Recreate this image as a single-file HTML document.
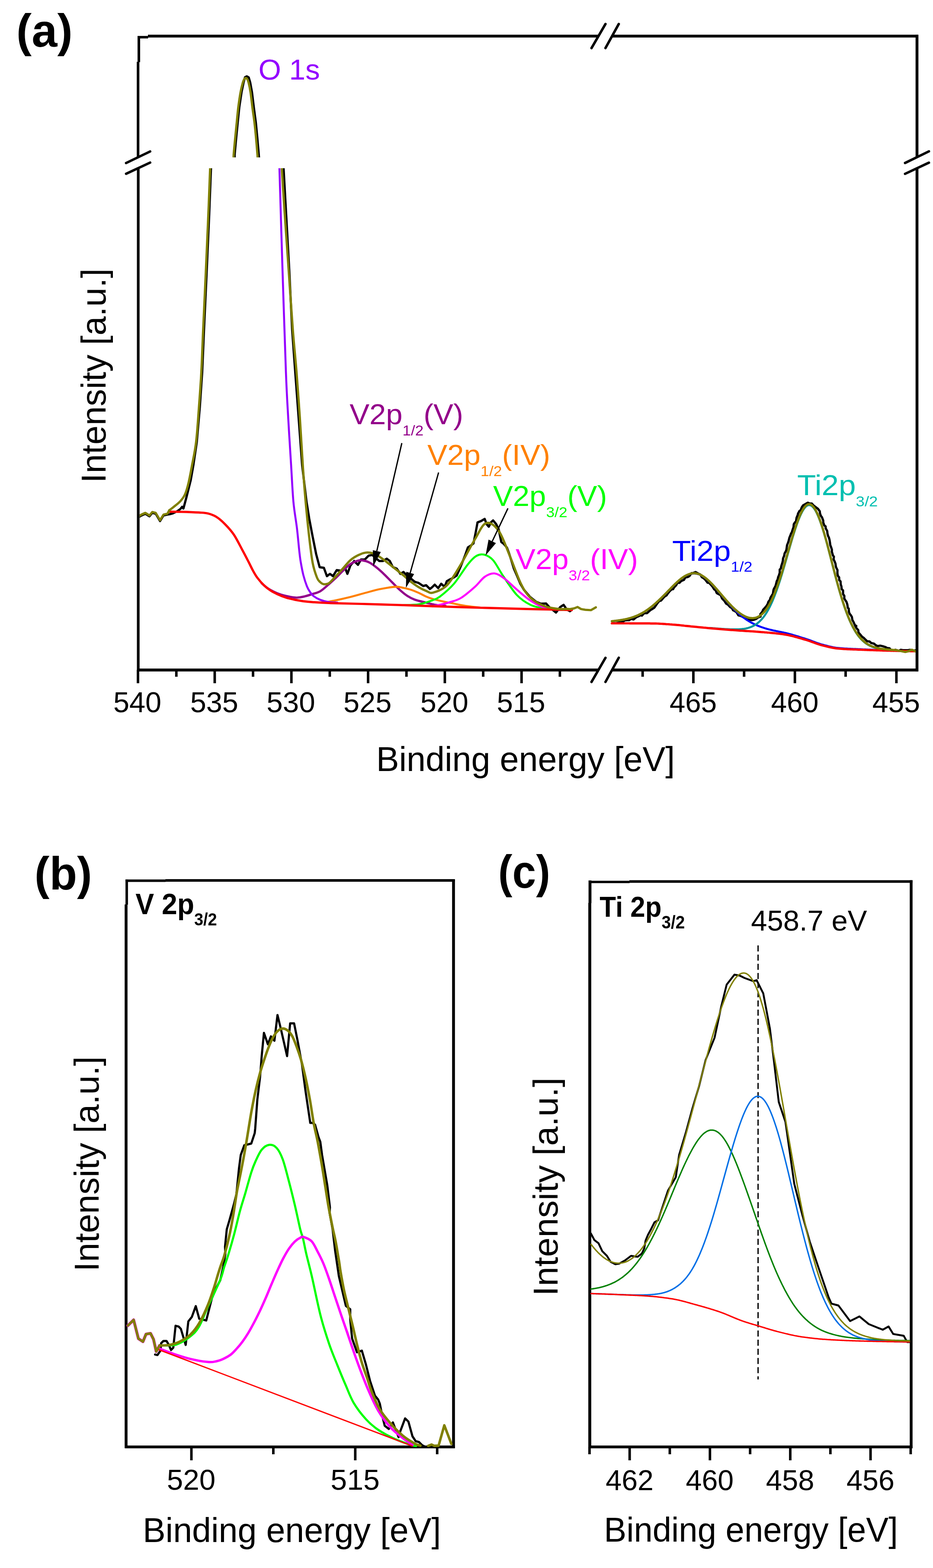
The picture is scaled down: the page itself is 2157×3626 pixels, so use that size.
<!DOCTYPE html>
<html><head><meta charset="utf-8"><title>XPS spectra</title>
<style>html,body{margin:0;padding:0;background:#fff;width:2157px;height:3626px;overflow:hidden}svg{display:block}</style>
</head><body>
<svg xmlns="http://www.w3.org/2000/svg" width="2157" height="3626" viewBox="0 0 2157 3626">
<rect width="100%" height="100%" fill="#fff"/>
<line x1="321" y1="85" x2="321" y2="143.6" stroke="#000" stroke-width="6" stroke-linecap="butt"/>
<line x1="319.2" y1="143" x2="319.2" y2="363.3" stroke="#000" stroke-width="6" stroke-linecap="butt"/>
<line x1="319.6" y1="388.6" x2="319.6" y2="1552.7" stroke="#000" stroke-width="6.2" stroke-linecap="butt"/>
<line x1="2120" y1="80.5" x2="2120" y2="363.4" stroke="#000" stroke-width="6.6" stroke-linecap="butt"/>
<line x1="2120" y1="389.1" x2="2120" y2="1552.5" stroke="#000" stroke-width="6.6" stroke-linecap="butt"/>
<line x1="318" y1="86" x2="342.5" y2="86" stroke="#000" stroke-width="5.8" stroke-linecap="butt"/>
<line x1="342" y1="83.5" x2="1383.4" y2="83.5" stroke="#000" stroke-width="6.6" stroke-linecap="butt"/>
<line x1="1414.9" y1="83.5" x2="2123" y2="83.5" stroke="#000" stroke-width="6.6" stroke-linecap="butt"/>
<line x1="317.5" y1="1549.4" x2="1383.4" y2="1549.4" stroke="#000" stroke-width="6.6" stroke-linecap="butt"/>
<line x1="1414.9" y1="1549.4" x2="2123" y2="1549.4" stroke="#000" stroke-width="6.6" stroke-linecap="butt"/>
<line x1="1367.5" y1="1577" x2="1399.8" y2="1521.2" stroke="#000" stroke-width="5.7" stroke-linecap="round"/>
<line x1="1399.8" y1="1577" x2="1430.5" y2="1521" stroke="#000" stroke-width="5.7" stroke-linecap="round"/>
<line x1="1367.5" y1="111.2" x2="1399.8" y2="55.5" stroke="#000" stroke-width="5.7" stroke-linecap="round"/>
<line x1="1399.8" y1="111.2" x2="1430.5" y2="55.5" stroke="#000" stroke-width="5.7" stroke-linecap="round"/>
<line x1="291.5" y1="377" x2="347.1" y2="350.2" stroke="#000" stroke-width="5.7" stroke-linecap="round"/>
<line x1="291.5" y1="401.9" x2="347.1" y2="376" stroke="#000" stroke-width="5.7" stroke-linecap="round"/>
<line x1="2092.4" y1="376.9" x2="2147.6" y2="350" stroke="#000" stroke-width="5.7" stroke-linecap="round"/>
<line x1="2092.4" y1="402" x2="2147.6" y2="376.2" stroke="#000" stroke-width="5.7" stroke-linecap="round"/>
<line x1="319" y1="1549" x2="319" y2="1580" stroke="#000" stroke-width="5.8" stroke-linecap="butt"/>
<line x1="496.4" y1="1549" x2="496.4" y2="1580" stroke="#000" stroke-width="5.8" stroke-linecap="butt"/>
<line x1="673.7" y1="1549" x2="673.7" y2="1580" stroke="#000" stroke-width="5.8" stroke-linecap="butt"/>
<line x1="851" y1="1549" x2="851" y2="1580" stroke="#000" stroke-width="5.8" stroke-linecap="butt"/>
<line x1="1028.4" y1="1549" x2="1028.4" y2="1580" stroke="#000" stroke-width="5.8" stroke-linecap="butt"/>
<line x1="1205.8" y1="1549" x2="1205.8" y2="1580" stroke="#000" stroke-width="5.8" stroke-linecap="butt"/>
<line x1="407.7" y1="1549" x2="407.7" y2="1565" stroke="#000" stroke-width="5.8" stroke-linecap="butt"/>
<line x1="585" y1="1549" x2="585" y2="1565" stroke="#000" stroke-width="5.8" stroke-linecap="butt"/>
<line x1="762.4" y1="1549" x2="762.4" y2="1565" stroke="#000" stroke-width="5.8" stroke-linecap="butt"/>
<line x1="939.7" y1="1549" x2="939.7" y2="1565" stroke="#000" stroke-width="5.8" stroke-linecap="butt"/>
<line x1="1117.1" y1="1549" x2="1117.1" y2="1565" stroke="#000" stroke-width="5.8" stroke-linecap="butt"/>
<line x1="1294.4" y1="1549" x2="1294.4" y2="1565" stroke="#000" stroke-width="5.8" stroke-linecap="butt"/>
<line x1="1603" y1="1549" x2="1603" y2="1580" stroke="#000" stroke-width="5.8" stroke-linecap="butt"/>
<line x1="1837.7" y1="1549" x2="1837.7" y2="1580" stroke="#000" stroke-width="5.8" stroke-linecap="butt"/>
<line x1="2072.4" y1="1549" x2="2072.4" y2="1580" stroke="#000" stroke-width="5.8" stroke-linecap="butt"/>
<line x1="1485.7" y1="1549" x2="1485.7" y2="1565" stroke="#000" stroke-width="5.8" stroke-linecap="butt"/>
<line x1="1720.3" y1="1549" x2="1720.3" y2="1565" stroke="#000" stroke-width="5.8" stroke-linecap="butt"/>
<line x1="1955" y1="1549" x2="1955" y2="1565" stroke="#000" stroke-width="5.8" stroke-linecap="butt"/>
<defs><clipPath id="cu"><rect x="323" y="86" width="1794" height="278"/></clipPath><clipPath id="cl"><rect x="323" y="389" width="1794" height="1157"/></clipPath></defs>
<g clip-path="url(#cu)">
<path d="M542.2 372 L542.4 364 L542.6 356.5 L546.1 318.7 L549.6 283.5 L553.2 248.2 L558.5 212.9 L563.3 190 L566.5 178.5 L570.5 176.5 L575 179 L578.5 191 L582.5 212.9 L586.8 248 L591.5 283.5 L595 320 L598.2 356.5 L598.8 364 L599.3 372" stroke="#000" stroke-width="5.2" fill="none" stroke-linejoin="round" stroke-linecap="round"/>
<path d="M539.2 372 C539.4 370.7 539.9 366.6 540.1 364 C540.3 361.4 539.7 364.1 540.3 356.5 C540.9 348.9 542.6 330.9 543.8 318.7 C545 306.5 546.1 295.2 547.3 283.5 C548.5 271.8 549.4 260 550.9 248.2 C552.4 236.4 554.5 222.4 556.2 212.9 C558 203.4 559.9 196 561.4 190.9 C562.9 185.8 563.9 184.3 565 182.5 C566.1 180.7 567 180.3 568.1 180.3 C569.2 180.3 570.4 180.7 571.5 182.5 C572.6 184.3 573.4 185.8 574.7 190.9 C576 196 577.6 203.4 579.1 212.9 C580.6 222.4 582 236.4 583.5 248.2 C585 260 586.9 271.8 588.3 283.5 C589.7 295.2 590.8 306.5 591.9 318.7 C593 330.9 594.5 348.9 595.1 356.5 C595.7 364.1 595.4 361.4 595.6 364 C595.8 366.6 596.1 370.7 596.2 372" stroke="#808000" stroke-width="5.2" fill="none" stroke-linejoin="round" stroke-linecap="round"/>
</g><g clip-path="url(#cl)">
<path d="M322 1195 L327 1192 L336 1188 L345.6 1194 L352 1186 L360 1188 L370 1205 L378 1192 L387 1190 L393 1189 L400 1187 L410 1182 L417 1177 L421 1172 L424 1176 L427 1165 L431 1150 L436 1130 L441 1110 L447 1076 L455 1022 L462 941 L467.5 860 L471.6 764.3 L477.8 629.5 L483.7 494.8 L487.8 389 L488.2 378" stroke="#000" stroke-width="5.2" fill="none" stroke-linejoin="round" stroke-linecap="round"/>
<path d="M655.2 378 L655.6 389 L661.5 494.8 L669 629.5 L675.5 764.3 L682.5 860 L690.5 967.8 L698.5 1075.6 L708.6 1160 L715 1200 L722.8 1240.9 L730.9 1281.3 L739 1311.6 L748.8 1313.1 L755.8 1332.3 L762.8 1327.1 L769.8 1332.3 L778.5 1318.3 L790.8 1320.1 L797.8 1313.1 L803.1 1327.1 L810.1 1307.8 L818.8 1297.3 L827.6 1306.1 L834.6 1293.8 L843.4 1293.8 L852.1 1285 L860.9 1283.3 L868 1290 L876.7 1297.3 L885.4 1297.3 L894.2 1292 L901.2 1297.3 L908.2 1311.3 L917 1314.8 L925.7 1327.1 L932.7 1322.7 L939.7 1329.7 L950 1338 L959 1345.5 L967.8 1348.1 L978.3 1355.1 L985.3 1353.4 L994 1362.1 L999 1358 L1005 1352 L1013 1360 L1020 1350 L1028 1357 L1033 1344 L1040 1340 L1048 1336 L1055.8 1331 L1065 1310 L1075 1285 L1081.7 1266 L1088 1262 L1094.6 1256.7 L1100 1230 L1104 1208 L1112 1205 L1120.5 1200 L1125 1212 L1130 1218 L1135 1208 L1140 1203.4 L1147 1212 L1152.9 1224 L1159 1253.5 L1165 1258 L1172 1266.4 L1177 1280 L1182 1295.5 L1188 1315 L1195 1331 L1203 1350 L1211 1363.5 L1225 1380 L1240 1392 L1250 1396 L1262.6 1395.6 L1270 1404 L1285.3 1416.6 L1295 1404 L1303 1398.8 L1310 1409 L1317.6 1413.4 L1322 1410" stroke="#000" stroke-width="5.2" fill="none" stroke-linejoin="round" stroke-linecap="round"/>
<path d="M1416.8 1441 L1422.7 1441.4 L1428.1 1440.7 L1431.9 1438 L1439.6 1437.9 L1444.7 1434.6 L1449.2 1434.1 L1454.6 1434.2 L1458.8 1431.1 L1464.7 1432.5 L1470.9 1427.4 L1476.2 1425.1 L1480.8 1422.7 L1484.1 1423.6 L1489.3 1418 L1495.9 1418 L1498.7 1415.3 L1503.8 1410.8 L1507.3 1408.7 L1512.7 1405.3 L1517.4 1398.6 L1520.2 1394.5 L1523.9 1390.1 L1528.3 1388.7 L1531.3 1385.3 L1536.1 1379.7 L1541 1376.7 L1543.8 1372.6 L1548.5 1366.9 L1552.9 1362.9 L1556.3 1362.4 L1558.3 1358.4 L1563.2 1353.5 L1566.3 1347.4 L1570.7 1347.9 L1575 1343.5 L1581.3 1340.9 L1584.4 1335.4 L1589.8 1334.5 L1593.8 1332.3 L1598.7 1325.4 L1602.4 1325.1 L1608 1322.8 L1614.5 1326.5 L1619.1 1328.6 L1622.4 1334.5 L1626.6 1337.1 L1630.2 1340.2 L1636 1347.7 L1638.7 1347.3 L1644.4 1353.2 L1646.8 1355.9 L1651 1362.6 L1654.4 1365.1 L1656.9 1371.3 L1660.4 1373.5 L1666.1 1376.3 L1669.3 1384 L1672.6 1387.3 L1675.1 1390.1 L1678.7 1395.8 L1682.8 1398.2 L1688.2 1404 L1692.1 1406.3 L1694.7 1411.1 L1698.9 1413.1 L1702.8 1415.9 L1707.2 1423.1 L1713.1 1424.6 L1716.5 1426.1 L1720.5 1428.3 L1727.4 1432.9 L1731.7 1433.8 L1738.2 1433.8 L1743.4 1433.1 L1747.9 1431.3 L1752.7 1427.9 L1758.4 1425.7 L1757.8 1420.2 L1762.4 1414.6 L1764.3 1410 L1768.2 1405.8 L1771.4 1402.1 L1774.6 1397.1 L1776.4 1391.7 L1779.8 1387.4 L1781.1 1382.6 L1784.6 1376.7 L1786.9 1373.1 L1788 1365.5 L1788.9 1362.2 L1792.8 1355.2 L1794 1351.3 L1795.8 1343.8 L1797.7 1340.4 L1799.1 1334.4 L1800.8 1330.5 L1802.6 1324.6 L1802.6 1317.3 L1805.1 1314.5 L1806.3 1308.8 L1808.8 1301 L1809.9 1296.7 L1810.4 1291.2 L1812.8 1285.4 L1814 1279.6 L1816.2 1275.9 L1818 1271.7 L1818.6 1267.9 L1819.6 1260.6 L1822 1254.6 L1823.1 1251.4 L1825.2 1242.9 L1827.5 1237.4 L1828.9 1233.6 L1830.7 1230.8 L1832.8 1223.8 L1834.5 1219.5 L1835.2 1212.1 L1837.7 1208.3 L1840.3 1205.4 L1841.5 1197.5 L1844.4 1190.6 L1844.8 1188 L1848.3 1181.6 L1851.1 1180 L1853.5 1173.4 L1856.6 1168.7 L1867.4 1162.5 L1872.6 1164.4 L1876.7 1164.3 L1881.4 1169.4 L1891 1176.6 L1895.2 1182.3 L1895.7 1186.9 L1897.6 1192.6 L1900.6 1196.8 L1903.2 1203.8 L1903.3 1208.1 L1905.7 1215 L1908.7 1217.4 L1908.9 1221.8 L1912.4 1228.1 L1913 1234 L1914.6 1239.8 L1916.3 1243 L1917.9 1249.2 L1918.8 1254.9 L1919.5 1260.5 L1921.4 1265.4 L1923.3 1271.2 L1923.1 1275.5 L1925.6 1284.2 L1927.9 1287.4 L1927.1 1293.3 L1929.6 1298.3 L1931.5 1303.4 L1932.5 1310.5 L1933.5 1313.1 L1936.1 1318.1 L1936 1325.6 L1937 1331.4 L1940 1335.3 L1940.2 1341.5 L1943.2 1344.3 L1943.7 1351.5 L1945.2 1355.9 L1945.9 1362.3 L1949 1365.3 L1949.1 1373.7 L1952 1378 L1951.9 1384 L1955.6 1390 L1956.7 1391.3 L1958.8 1397.3 L1960.1 1405.7 L1962 1407.1 L1962.8 1415.4 L1964.4 1419.4 L1967 1422.6 L1969.5 1426.9 L1970.6 1433.7 L1972.7 1437.3 L1976.4 1445.5 L1979.7 1447.7 L1977.1 1447.2 L1980.2 1452.7 L1984.1 1457 L1984.9 1462.8 L1988.7 1467.1 L1993 1472.4 L1996.9 1475.1 L2000.4 1478.7 L2004.7 1482.9 L2010 1483.3 L2014.1 1487 L2020.3 1488.4 L2025.5 1492.5 L2029.3 1494.1 L2034.8 1493 L2041.2 1494.6 L2047.4 1496.5 L2051.6 1498.7 L2056.4 1499 L2058.9 1502.2 L2066.6 1504.8 L2070.3 1502.6 L2077.6 1505 L2082.8 1502.7 L2087.8 1503.6 L2092.4 1503.5 L2098.8 1503.6 L2103.7 1502.7 L2110.3 1504.9 L2115.7 1504" stroke="#000" stroke-width="5.2" fill="none" stroke-linejoin="round" stroke-linecap="round"/>
<path d="M605 1348.7 C606.7 1350.2 611.6 1354.9 615 1357.5 C618.4 1360.1 621.3 1362.1 625.6 1364.5 C629.9 1366.9 636.6 1370.2 640.8 1372 C645 1373.8 645.8 1374.1 650.9 1375.5 C656 1376.9 665.2 1379.2 671.1 1380.3 C677 1381.4 681.2 1382.1 686.2 1382 C691.2 1381.9 695.8 1381.2 701.4 1379.9 C707 1378.7 713.6 1376.6 720 1374.5 C726.4 1372.4 733.8 1370.9 740 1367.4 C746.2 1363.9 751.7 1358.4 757.5 1353.4 C763.3 1348.4 769.1 1343.1 775 1337.6 C780.9 1332 786.8 1325.6 792.6 1320.1 C798.5 1314.5 804.3 1308.2 810.1 1304.3 C815.9 1300.3 822.9 1297.8 827.6 1296.4 C832.3 1295 833.7 1295.2 838.1 1295.9 C842.5 1296.6 848.4 1297.9 853.9 1300.8 C859.4 1303.7 865.6 1308.4 871.4 1313.1 C877.2 1317.8 883.1 1323.2 888.9 1328.8 C894.7 1334.3 900.5 1340.6 906.4 1346.4 C912.2 1352.2 918.1 1358.7 924 1363.9 C929.9 1369.2 935.7 1374.1 941.5 1377.9 C947.3 1381.7 951.7 1384.1 959 1386.7 C966.3 1389.3 977.6 1391.7 985.3 1393.7 C993 1395.7 997.5 1397.3 1005 1398.5 C1012.5 1399.7 1025.8 1400.6 1030 1401" stroke="#93008A" stroke-width="5.2" fill="none" stroke-linejoin="round" stroke-linecap="round"/>
<path d="M745 1393.8 C750 1392.9 764.1 1390.6 775 1388.4 C785.9 1386.2 798.4 1383.4 810.1 1380.5 C821.8 1377.6 833.4 1374 845.1 1370.9 C856.8 1367.8 868.5 1364.4 880.2 1362.1 C891.9 1359.8 906.5 1357.3 915.2 1356.9 C924 1356.5 926.9 1358.3 932.7 1359.5 C938.5 1360.7 944.4 1362 950.2 1363.9 C956.1 1365.8 961.9 1368.3 967.8 1370.9 C973.6 1373.5 979.9 1377.3 985.3 1379.6 C990.7 1381.9 994.7 1383.3 1000 1384.9 C1005.3 1386.5 1008.8 1387.5 1017 1389.3 C1025.2 1391.1 1038.5 1393.8 1049 1395.8 C1059.5 1397.8 1069.8 1400 1080 1401.5 C1090.2 1403 1105 1404.4 1110 1405" stroke="#FF8000" stroke-width="4.6" fill="none" stroke-linejoin="round" stroke-linecap="round"/>
<path d="M645.7 378 C645.8 379.8 644.8 348.7 646 389 C647.2 429.3 650.5 541.5 653 620 C655.5 698.5 658.8 802 661 860 C663.2 918 664.4 931.9 666.4 967.8 C668.4 1003.7 671 1043.6 673 1075.6 C675 1107.6 676.1 1135.8 678.3 1160 C680.5 1184.2 684.1 1201.4 686.4 1220.6 C688.7 1239.8 690.5 1261.8 692 1275 C693.5 1288.2 693.7 1290.8 695.3 1300 C696.9 1309.2 699 1321 701.4 1330.3 C703.8 1339.6 707 1349.2 709.5 1355.6 C712 1362 714 1364.9 716.6 1368.7 C719.2 1372.5 721.1 1375.5 725 1378.5 C728.9 1381.5 734.2 1384.7 740 1387 C745.8 1389.3 753.3 1391.2 760 1392.3 C766.7 1393.4 776.7 1393.3 780 1393.5" stroke="#9400FF" stroke-width="4.6" fill="none" stroke-linejoin="round" stroke-linecap="round"/>
<path d="M930 1399.3 C936.4 1399 956.8 1399.3 968.5 1397.4 C980.2 1395.5 991.9 1391 1000 1388 C1008.1 1385 1008.8 1385.8 1017 1379.6 C1025.2 1373.3 1038.2 1362.9 1049 1350.5 C1059.8 1338.1 1073 1315.8 1081.7 1305 C1090.4 1294.2 1094.8 1289.5 1101 1285.8 C1107.2 1282.1 1112.5 1281 1119 1282.6 C1125.5 1284.2 1132.7 1287.4 1140 1295.5 C1147.3 1303.6 1153.4 1317.6 1162.6 1331 C1171.8 1344.4 1184.3 1364.7 1195 1376 C1205.7 1387.3 1216.2 1393.8 1227 1399 C1237.8 1404.2 1247.4 1405.1 1259.6 1407 C1271.8 1408.9 1293.3 1409.9 1300 1410.5" stroke="#00FF00" stroke-width="4.6" fill="none" stroke-linejoin="round" stroke-linecap="round"/>
<path d="M1000 1402 C1002.8 1401.4 1010.3 1400.1 1017 1398.5 C1023.7 1396.9 1031.9 1395.1 1040 1392.5 C1048.1 1389.9 1055.8 1388.8 1065.5 1382.9 C1075.2 1377 1088.8 1365.2 1098 1357 C1107.2 1348.8 1113 1339.2 1120.5 1334 C1128 1328.8 1135.5 1325.4 1143 1326 C1150.5 1326.6 1157.1 1331.3 1165.8 1337.6 C1174.5 1343.8 1184.8 1354.9 1195 1363.5 C1205.2 1372.1 1216.2 1382.3 1227 1389.3 C1237.8 1396.3 1248.3 1402 1259.6 1405.5 C1270.9 1409 1289.1 1409.7 1295 1410.5" stroke="#FF00FF" stroke-width="4.6" fill="none" stroke-linejoin="round" stroke-linecap="round"/>
<path d="M1414.5 1436.6 L1416 1436.5 L1417.5 1436.4 L1419 1436.2 L1420.5 1436.1 L1422 1435.9 L1423.5 1435.7 L1425 1435.6 L1426.5 1435.4 L1428 1435.2 L1429.5 1435 L1431 1434.8 L1432.5 1434.6 L1434 1434.4 L1435.5 1434.1 L1437 1433.9 L1438.5 1433.6 L1440 1433.4 L1441.5 1433.1 L1443 1432.8 L1444.5 1432.5 L1446 1432.2 L1447.5 1431.8 L1449 1431.5 L1450.5 1431.1 L1452 1430.7 L1453.5 1430.4 L1455 1429.9 L1456.5 1429.5 L1458 1429.1 L1459.5 1428.6 L1461 1428.2 L1462.5 1427.7 L1464 1427.1 L1465.5 1426.6 L1467 1426.1 L1468.5 1425.5 L1470 1424.9 L1471.5 1424.3 L1473 1423.7 L1474.5 1423 L1476 1422.3 L1477.5 1421.6 L1479 1420.9 L1480.5 1420.1 L1482 1419.4 L1483.5 1418.6 L1485 1417.7 L1486.5 1416.9 L1488 1416 L1489.5 1415.1 L1491 1414.2 L1492.5 1413.2 L1494 1412.3 L1495.5 1411.3 L1497 1410.2 L1498.5 1409.2 L1500 1408.1 L1501.5 1407 L1503 1405.8 L1504.5 1404.7 L1506 1403.5 L1507.5 1402.3 L1509 1401 L1510.5 1399.8 L1512 1398.5 L1513.5 1397.2 L1515 1395.9 L1516.5 1394.5 L1518 1393.2 L1519.5 1391.8 L1521 1390.4 L1522.5 1389 L1524 1387.6 L1525.5 1386.2 L1527 1384.8 L1528.5 1383.3 L1530 1381.9 L1531.5 1380.4 L1533 1378.9 L1534.5 1377.4 L1536 1375.9 L1537.5 1374.4 L1539 1372.8 L1540.5 1371.3 L1542 1369.8 L1543.5 1368.3 L1545 1366.7 L1546.5 1365.2 L1548 1363.6 L1549.5 1362.1 L1551 1360.6 L1552.5 1359 L1554 1357.5 L1555.5 1356 L1557 1354.5 L1558.5 1353 L1560 1351.5 L1561.5 1350.1 L1563 1348.6 L1564.5 1347.2 L1566 1345.9 L1567.5 1344.5 L1569 1343.2 L1570.5 1341.9 L1572 1340.7 L1573.5 1339.5 L1575 1338.3 L1576.5 1337.2 L1578 1336.1 L1579.5 1335 L1581 1334.1 L1582.5 1333.1 L1584 1332.2 L1585.5 1331.4 L1587 1330.6 L1588.5 1329.9 L1590 1329.3 L1591.5 1328.7 L1593 1328.1 L1594.5 1327.6 L1596 1327.2 L1597.5 1326.9 L1599 1326.6 L1600.5 1326.4 L1602 1326.2 L1603.5 1326.2 L1605 1326.2 L1606.5 1326.2 L1608 1326.4 L1609.5 1326.6 L1611 1326.9 L1612.5 1327.2 L1614 1327.6 L1615.5 1328.1 L1617 1328.7 L1618.5 1329.3 L1620 1330 L1621.5 1330.8 L1623 1331.6 L1624.5 1332.5 L1626 1333.5 L1627.5 1334.5 L1629 1335.6 L1630.5 1336.7 L1632 1337.9 L1633.5 1339.1 L1635 1340.4 L1636.5 1341.7 L1638 1343.1 L1639.5 1344.5 L1641 1345.9 L1642.5 1347.4 L1644 1348.9 L1645.5 1350.5 L1647 1352.1 L1648.5 1353.7 L1650 1355.3 L1651.5 1357 L1653 1358.7 L1654.5 1360.4 L1656 1362.1 L1657.5 1363.8 L1659 1365.6 L1660.5 1367.3 L1662 1369.1 L1663.5 1370.9 L1665 1372.6 L1666.5 1374.4 L1668 1376.2 L1669.5 1378 L1671 1379.8 L1672.5 1381.5 L1674 1383.3 L1675.5 1385.1 L1677 1386.8 L1678.5 1388.6 L1680 1390.3 L1681.5 1392 L1683 1393.7 L1684.5 1395.4 L1686 1397.1 L1687.5 1398.7 L1689 1400.4 L1690.5 1402 L1692 1403.6 L1693.5 1405.2 L1695 1406.7 L1696.5 1408.3 L1698 1409.8 L1699.5 1411.3 L1701 1412.7 L1702.5 1414.2 L1704 1415.6 L1705.5 1416.9 L1707 1418.3 L1708.5 1419.6 L1710 1420.9 L1711.5 1422.2 L1713 1423.5 L1714.5 1424.7 L1716 1425.9 L1717.5 1427 L1719 1428.2 L1720.5 1429.3 L1722 1430.4 L1723.5 1431.4 L1725 1432.5 L1726.5 1433.5 L1728 1434.5 L1729.5 1435.4 L1731 1436.3 L1732.5 1437.2 L1734 1438.1 L1735.5 1439 L1737 1439.8 L1738.5 1440.6 L1740 1441.4 L1741.5 1442.2 L1743 1442.9 L1744.5 1443.7 L1746 1444.4 L1747.5 1445 L1749 1445.7 L1750.5 1446.4 L1752 1447 L1753.5 1447.6 L1755 1448.2 L1756.5 1448.8 L1758 1449.3 L1759.5 1449.9 L1761 1450.4 L1762.5 1450.9 L1764 1451.4 L1765.5 1451.9 L1767 1452.4 L1768.5 1452.9 L1770 1453.3 L1771.5 1453.7 L1773 1454.2 L1774.5 1454.6 L1776 1455 L1777.5 1455.4 L1779 1455.7 L1780.5 1456.1 L1782 1456.5 L1783.5 1456.8 L1785 1457.2 L1786.5 1457.5 L1788 1457.9 L1789.5 1458.2 L1791 1458.5 L1792.5 1458.8 L1794 1459.2 L1795.5 1459.5 L1797 1459.8 L1798.5 1460.1 L1800 1460.4 L1801.5 1460.7 L1803 1461 L1804.5 1461.3 L1806 1461.6 L1807.5 1461.9 L1809 1462.2 L1810.5 1462.5 L1812 1462.8 L1813.5 1463.2 L1815 1463.5 L1816.5 1463.8 L1818 1464.2 L1819.5 1464.6 L1821 1464.9 L1822.5 1465.3 L1824 1465.7 L1825.5 1466.1 L1827 1466.5 L1828.5 1466.9 L1830 1467.3 L1831.5 1467.7 L1833 1468.2 L1834.5 1468.6 L1836 1469.1 L1837.5 1469.5 L1839 1470 L1840.5 1470.4 L1842 1470.9 L1843.5 1471.3 L1845 1471.8 L1846.5 1472.3 L1848 1472.7 L1849.5 1473.2 L1851 1473.7 L1852.5 1474.1 L1854 1474.6 L1855.5 1475.1 L1857 1475.5 L1858.5 1476 L1860 1476.5 L1861.5 1476.9 L1863 1477.4 L1864.5 1477.9 L1866 1478.4 L1867.5 1478.9 L1869 1479.4 L1870.5 1479.9 L1872 1480.5 L1873.5 1481 L1875 1481.6 L1876.5 1482.2 L1878 1482.7 L1879.5 1483.3 L1881 1483.9 L1882.5 1484.4 L1884 1485 L1885.5 1485.6 L1887 1486.1 L1888.5 1486.7 L1890 1487.2 L1891.5 1487.7 L1893 1488.2 L1894.5 1488.7 L1896 1489.2 L1897.5 1489.6 L1899 1490.1 L1900.5 1490.5 L1902 1490.9 L1903.5 1491.3 L1905 1491.7 L1906.5 1492.1 L1908 1492.5 L1909.5 1492.8 L1911 1493.2 L1912.5 1493.6 L1914 1494 L1915.5 1494.4 L1917 1494.7 L1918.5 1495.1 L1920 1495.4 L1921.5 1495.8 L1923 1496.1 L1924.5 1496.4 L1926 1496.7 L1927.5 1497 L1929 1497.2 L1930.5 1497.5 L1932 1497.7 L1933.5 1498 L1935 1498.2 L1936.5 1498.3 L1938 1498.5 L1939.5 1498.6 L1941 1498.8 L1942.5 1498.9 L1944 1499 L1945.5 1499.1 L1947 1499.3 L1948.5 1499.4 L1950 1499.5 L1951.5 1499.6 L1953 1499.7 L1954.5 1499.8 L1956 1499.8 L1957.5 1499.9 L1959 1500 L1960.5 1500.1 L1962 1500.2 L1963.5 1500.3 L1965 1500.3 L1966.5 1500.4 L1968 1500.5 L1969.5 1500.5 L1971 1500.6 L1972.5 1500.7 L1974 1500.7 L1975.5 1500.8 L1977 1500.9 L1978.5 1500.9 L1980 1501 L1981.5 1501.1 L1983 1501.1 L1984.5 1501.2 L1986 1501.3 L1987.5 1501.3 L1989 1501.4 L1990.5 1501.5 L1992 1501.5 L1993.5 1501.6 L1995 1501.7 L1996.5 1501.7 L1998 1501.8 L1999.5 1501.9 L2001 1501.9 L2002.5 1502 L2004 1502 L2005.5 1502.1 L2007 1502.2 L2008.5 1502.2 L2010 1502.3 L2011.5 1502.4 L2013 1502.4 L2014.5 1502.5 L2016 1502.5 L2017.5 1502.6 L2019 1502.7 L2020.5 1502.7 L2022 1502.8 L2023.5 1502.8 L2025 1502.9 L2026.5 1503 L2028 1503 L2029.5 1503.1 L2031 1503.1 L2032.5 1503.2 L2034 1503.2 L2035.5 1503.3 L2037 1503.3 L2038.5 1503.4 L2040 1503.4 L2041.5 1503.5 L2043 1503.5 L2044.5 1503.6 L2046 1503.6 L2047.5 1503.7 L2049 1503.7 L2050.5 1503.8 L2052 1503.8 L2053.5 1503.9 L2055 1503.9 L2056.5 1504 L2058 1504 L2059.5 1504.1 L2061 1504.1 L2062.5 1504.1 L2064 1504.2 L2065.5 1504.2 L2067 1504.3 L2068.5 1504.3 L2070 1504.3" stroke="#0000FF" stroke-width="4.6" fill="none" stroke-linejoin="round" stroke-linecap="round"/>
<path d="M1641 1452 L1642.5 1452.2 L1644 1452.3 L1645.5 1452.4 L1647 1452.5 L1648.5 1452.7 L1650 1452.8 L1651.5 1452.9 L1653 1453 L1654.5 1453.1 L1656 1453.2 L1657.5 1453.4 L1659 1453.5 L1660.5 1453.6 L1662 1453.7 L1663.5 1453.8 L1665 1453.9 L1666.5 1454 L1668 1454.1 L1669.5 1454.2 L1671 1454.3 L1672.5 1454.4 L1674 1454.5 L1675.5 1454.6 L1677 1454.7 L1678.5 1454.7 L1680 1454.8 L1681.5 1454.9 L1683 1455 L1684.5 1455 L1686 1455.1 L1687.5 1455.2 L1689 1455.2 L1690.5 1455.3 L1692 1455.3 L1693.5 1455.3 L1695 1455.4 L1696.5 1455.4 L1698 1455.4 L1699.5 1455.4 L1701 1455.4 L1702.5 1455.4 L1704 1455.4 L1705.5 1455.3 L1707 1455.3 L1708.5 1455.2 L1710 1455.1 L1711.5 1455 L1713 1454.9 L1714.5 1454.7 L1716 1454.6 L1717.5 1454.4 L1719 1454.2 L1720.5 1454 L1722 1453.7 L1723.5 1453.5 L1725 1453.2 L1726.5 1452.8 L1728 1452.5 L1729.5 1452.1 L1731 1451.6 L1732.5 1451.2 L1734 1450.6 L1735.5 1450.1 L1737 1449.5 L1738.5 1448.9 L1740 1448.2 L1741.5 1447.4 L1743 1446.6 L1744.5 1445.8 L1746 1444.9 L1747.5 1443.9 L1749 1442.9 L1750.5 1441.8 L1752 1440.6 L1753.5 1439.4 L1755 1438.1 L1756.5 1436.7 L1758 1435.2 L1759.5 1433.7 L1761 1432.1 L1762.5 1430.3 L1764 1428.5 L1765.5 1426.6 L1767 1424.6 L1768.5 1422.4 L1770 1420.2 L1771.5 1417.9 L1773 1415.5 L1774.5 1412.9 L1776 1410.3 L1777.5 1407.5 L1779 1404.6 L1780.5 1401.6 L1782 1398.5 L1783.5 1395.3 L1785 1392 L1786.5 1388.5 L1788 1384.9 L1789.5 1381.2 L1791 1377.4 L1792.5 1373.5 L1794 1369.5 L1795.5 1365.4 L1797 1361.1 L1798.5 1356.8 L1800 1352.3 L1801.5 1347.8 L1803 1343.2 L1804.5 1338.5 L1806 1333.6 L1807.5 1328.8 L1809 1323.8 L1810.5 1318.8 L1812 1313.7 L1813.5 1308.6 L1815 1303.4 L1816.5 1298.2 L1818 1293 L1819.5 1287.8 L1821 1282.5 L1822.5 1277.3 L1824 1272.1 L1825.5 1266.9 L1827 1261.7 L1828.5 1256.5 L1830 1251.4 L1831.5 1246.4 L1833 1241.4 L1834.5 1236.5 L1836 1231.7 L1837.5 1227 L1839 1222.4 L1840.5 1217.9 L1842 1213.6 L1843.5 1209.4 L1845 1205.3 L1846.5 1201.4 L1848 1197.7 L1849.5 1194.1 L1851 1190.8 L1852.5 1187.6 L1854 1184.6 L1855.5 1181.9 L1857 1179.4 L1858.5 1177.1 L1860 1175 L1861.5 1173.2 L1863 1171.6 L1864.5 1170.3 L1866 1169.3 L1867.5 1168.6 L1869 1168.1 L1870.5 1168 L1872 1168.1 L1873.5 1168.5 L1875 1169.1 L1876.5 1170.1 L1878 1171.3 L1879.5 1172.8 L1881 1174.6 L1882.5 1176.6 L1884 1178.9 L1885.5 1181.4 L1887 1184.2 L1888.5 1187.2 L1890 1190.4 L1891.5 1193.9 L1893 1197.6 L1894.5 1201.4 L1896 1205.5 L1897.5 1209.7 L1899 1214.1 L1900.5 1218.7 L1902 1223.4 L1903.5 1228.2 L1905 1233.2 L1906.5 1238.4 L1908 1243.6 L1909.5 1249 L1911 1254.5 L1912.5 1260 L1914 1265.7 L1915.5 1271.4 L1917 1277.1 L1918.5 1282.9 L1920 1288.8 L1921.5 1294.6 L1923 1300.5 L1924.5 1306.3 L1926 1312.1 L1927.5 1318 L1929 1323.7 L1930.5 1329.5 L1932 1335.1 L1933.5 1340.8 L1935 1346.3 L1936.5 1351.8 L1938 1357.2 L1939.5 1362.5 L1941 1367.7 L1942.5 1372.8 L1944 1377.8 L1945.5 1382.7 L1947 1387.5 L1948.5 1392.3 L1950 1396.9 L1951.5 1401.4 L1953 1405.7 L1954.5 1410 L1956 1414.2 L1957.5 1418.2 L1959 1422.1 L1960.5 1425.9 L1962 1429.6 L1963.5 1433.1 L1965 1436.5 L1966.5 1439.8 L1968 1443 L1969.5 1446.1 L1971 1449.1 L1972.5 1451.9 L1974 1454.6 L1975.5 1457.3 L1977 1459.8 L1978.5 1462.2 L1980 1464.5 L1981.5 1466.7 L1983 1468.8 L1984.5 1470.8 L1986 1472.7 L1987.5 1474.5 L1989 1476.2 L1990.5 1477.9 L1992 1479.4 L1993.5 1480.9 L1995 1482.3 L1996.5 1483.6 L1998 1484.9 L1999.5 1486.1 L2001 1487.2 L2002.5 1488.3 L2004 1489.3 L2005.5 1490.3 L2007 1491.2 L2008.5 1492 L2010 1492.8 L2011.5 1493.5 L2013 1494.2 L2014.5 1494.9 L2016 1495.5 L2017.5 1496.1 L2019 1496.7 L2020.5 1497.2 L2022 1497.6 L2023.5 1498.1 L2025 1498.5 L2026.5 1498.9 L2028 1499.3 L2029.5 1499.6 L2031 1500 L2032.5 1500.3 L2034 1500.5 L2035.5 1500.8 L2037 1501.1 L2038.5 1501.3 L2040 1501.5 L2041.5 1501.7 L2043 1501.9 L2044.5 1502.1 L2046 1502.3 L2047.5 1502.4 L2049 1502.6 L2050.5 1502.7 L2052 1502.9 L2053.5 1503 L2055 1503.1 L2056.5 1503.2 L2058 1503.3 L2059.5 1503.4 L2061 1503.5 L2062.5 1503.6 L2064 1503.7 L2065.5 1503.8 L2067 1503.8 L2068.5 1503.9 L2070 1504" stroke="#00969B" stroke-width="4.6" fill="none" stroke-linejoin="round" stroke-linecap="round"/>
<path d="M392.8 1183.4 C397.3 1183.4 408.8 1183.3 420 1183.6 C431.2 1183.9 450 1184.6 460 1185.2 C470 1185.8 473.5 1185.6 480.2 1187.3 C486.9 1189 493.7 1191.2 500.4 1195.4 C507.1 1199.6 513.9 1205.7 520.6 1212.6 C527.4 1219.5 534.2 1226.7 540.9 1236.8 C547.6 1246.9 555.3 1262.7 561 1273.2 C566.7 1283.7 571 1292.2 575 1300 C579 1307.8 581.8 1314.1 585.2 1320.2 C588.6 1326.3 591.1 1330.9 595.3 1336.5 C599.5 1342.1 605.3 1348.7 610.4 1353.6 C615.5 1358.5 620.5 1362.3 625.6 1365.7 C630.7 1369.1 634.9 1371.1 640.8 1373.8 C646.7 1376.5 654.3 1379.7 661 1381.9 C667.7 1384.1 674.5 1385.5 681.2 1386.9 C687.9 1388.3 694.6 1389.4 701.4 1390.3 C708.2 1391.2 712.2 1391.6 722 1392.3 C731.8 1393 740.9 1393.8 760 1394.5 C779.1 1395.2 809.8 1395.8 836.5 1396.5 C863.2 1397.2 892.8 1398.1 920 1399 C947.2 1399.9 967.7 1400.7 1000 1401.8 C1032.3 1402.9 1077.3 1404.4 1114 1405.5 C1150.7 1406.6 1187.7 1407.5 1220 1408.3 C1252.3 1409.1 1291 1409.8 1308 1410.3 C1325 1410.8 1319.7 1410.9 1322 1411" stroke="#FF0000" stroke-width="5.2" fill="none" stroke-linejoin="round" stroke-linecap="round"/>
<path d="M1414.5 1441.5 L1417.5 1441.5 L1420.5 1441.5 L1423.5 1441.5 L1426.5 1441.5 L1429.5 1441.5 L1432.5 1441.5 L1435.5 1441.5 L1438.5 1441.5 L1441.5 1441.5 L1444.5 1441.5 L1447.5 1441.5 L1450.5 1441.5 L1453.5 1441.5 L1456.5 1441.6 L1459.5 1441.6 L1462.5 1441.6 L1465.5 1441.6 L1468.5 1441.6 L1471.5 1441.6 L1474.5 1441.6 L1477.5 1441.6 L1480.5 1441.6 L1483.5 1441.7 L1486.5 1441.7 L1489.5 1441.7 L1492.5 1441.7 L1495.5 1441.7 L1498.5 1441.7 L1501.5 1441.7 L1504.5 1441.8 L1507.5 1441.8 L1510.5 1441.8 L1513.5 1441.8 L1516.5 1441.9 L1519.5 1442 L1522.5 1442.1 L1525.5 1442.3 L1528.5 1442.5 L1531.5 1442.6 L1534.5 1442.8 L1537.5 1443 L1540.5 1443.3 L1543.5 1443.5 L1546.5 1443.7 L1549.5 1444 L1552.5 1444.2 L1555.5 1444.5 L1558.5 1444.7 L1561.5 1444.9 L1564.5 1445.2 L1567.5 1445.4 L1570.5 1445.7 L1573.5 1446 L1576.5 1446.3 L1579.5 1446.6 L1582.5 1447 L1585.5 1447.3 L1588.5 1447.6 L1591.5 1447.9 L1594.5 1448.2 L1597.5 1448.6 L1600.5 1448.8 L1603.5 1449.1 L1606.5 1449.4 L1609.5 1449.7 L1612.5 1450 L1615.5 1450.3 L1618.5 1450.6 L1621.5 1450.9 L1624.5 1451.2 L1627.5 1451.5 L1630.5 1451.7 L1633.5 1452 L1636.5 1452.3 L1639.5 1452.6 L1642.5 1452.8 L1645.5 1453.1 L1648.5 1453.4 L1651.5 1453.6 L1654.5 1453.9 L1657.5 1454.1 L1660.5 1454.4 L1663.5 1454.6 L1666.5 1454.9 L1669.5 1455.1 L1672.5 1455.4 L1675.5 1455.6 L1678.5 1455.9 L1681.5 1456.1 L1684.5 1456.3 L1687.5 1456.6 L1690.5 1456.8 L1693.5 1457 L1696.5 1457.2 L1699.5 1457.5 L1702.5 1457.7 L1705.5 1457.9 L1708.5 1458.1 L1711.5 1458.3 L1714.5 1458.5 L1717.5 1458.7 L1720.5 1458.9 L1723.5 1459.1 L1726.5 1459.3 L1729.5 1459.5 L1732.5 1459.7 L1735.5 1459.8 L1738.5 1460 L1741.5 1460.2 L1744.5 1460.4 L1747.5 1460.7 L1750.5 1460.9 L1753.5 1461.1 L1756.5 1461.3 L1759.5 1461.6 L1762.5 1461.8 L1765.5 1462 L1768.5 1462.3 L1771.5 1462.5 L1774.5 1462.8 L1777.5 1463 L1780.5 1463.3 L1783.5 1463.6 L1786.5 1463.9 L1789.5 1464.1 L1792.5 1464.5 L1795.5 1464.8 L1798.5 1465.1 L1801.5 1465.5 L1804.5 1465.8 L1807.5 1466.2 L1810.5 1466.6 L1813.5 1467.1 L1816.5 1467.6 L1819.5 1468.1 L1822.5 1468.8 L1825.5 1469.4 L1828.5 1470.1 L1831.5 1470.8 L1834.5 1471.6 L1837.5 1472.4 L1840.5 1473.2 L1843.5 1474 L1846.5 1474.9 L1849.5 1475.8 L1852.5 1476.6 L1855.5 1477.5 L1858.5 1478.4 L1861.5 1479.2 L1864.5 1480.1 L1867.5 1481.1 L1870.5 1482.1 L1873.5 1483.1 L1876.5 1484.2 L1879.5 1485.3 L1882.5 1486.4 L1885.5 1487.5 L1888.5 1488.5 L1891.5 1489.6 L1894.5 1490.5 L1897.5 1491.4 L1900.5 1492.2 L1903.5 1493 L1906.5 1493.7 L1909.5 1494.5 L1912.5 1495.2 L1915.5 1495.9 L1918.5 1496.6 L1921.5 1497.3 L1924.5 1497.9 L1927.5 1498.4 L1930.5 1498.9 L1933.5 1499.4 L1936.5 1499.7 L1939.5 1500 L1942.5 1500.2 L1945.5 1500.5 L1948.5 1500.7 L1951.5 1500.8 L1954.5 1501 L1957.5 1501.2 L1960.5 1501.3 L1963.5 1501.5 L1966.5 1501.6 L1969.5 1501.7 L1972.5 1501.8 L1975.5 1501.9 L1978.5 1502 L1981.5 1502.2 L1984.5 1502.3 L1987.5 1502.4 L1990.5 1502.5 L1993.5 1502.6 L1996.5 1502.7 L1999.5 1502.9 L2002.5 1503 L2005.5 1503.1 L2008.5 1503.2 L2011.5 1503.3 L2014.5 1503.4 L2017.5 1503.5 L2020.5 1503.6 L2023.5 1503.7 L2026.5 1503.8 L2029.5 1503.9 L2032.5 1504 L2035.5 1504.1 L2038.5 1504.2 L2041.5 1504.3 L2044.5 1504.4 L2047.5 1504.5 L2050.5 1504.6 L2053.5 1504.7 L2056.5 1504.7 L2059.5 1504.8 L2062.5 1504.9 L2065.5 1505 L2068.5 1505 L2071.5 1505.1 L2074.5 1505.2 L2077.5 1505.2 L2080.5 1505.3 L2083.5 1505.4 L2086.5 1505.4 L2089.5 1505.5 L2092.5 1505.5 L2095.5 1505.6 L2098.5 1505.7 L2101.5 1505.7 L2104.5 1505.8 L2107.5 1505.8 L2110.5 1505.9 L2113.5 1505.9 L2116.5 1506" stroke="#FF0000" stroke-width="5.2" fill="none" stroke-linejoin="round" stroke-linecap="round"/>
<path d="M322 1193 L327 1190 L336 1186 L345.6 1192 L352 1184 L360 1186 L370 1203 L378 1190 L387 1188 L391.4 1180" stroke="#808000" stroke-width="5.2" fill="none" stroke-linejoin="round" stroke-linecap="round"/>
<path d="M391.4 1180 C393 1178.8 396.6 1176.2 400.9 1172.7 C405.2 1169.2 412.5 1164 417 1159 C421.5 1154 424.6 1150.2 427.8 1143 C431 1135.8 433.3 1127.2 436 1116 C438.7 1104.8 441.1 1091.3 444 1075.6 C446.9 1059.9 450.7 1044.1 453.4 1021.7 C456.1 999.3 458 968 460 941 C462 914 463.9 889.5 465.5 860 C467.1 830.5 467.9 802.7 469.6 764.3 C471.3 725.9 473.8 674.4 475.8 629.5 C477.8 584.6 480 534.9 481.7 494.8 C483.4 454.7 485.1 408.5 485.8 389 C486.6 369.5 486.1 379.8 486.2 378" stroke="#808000" stroke-width="5.2" fill="none" stroke-linejoin="round" stroke-linecap="round"/>
<path d="M651.2 378 C651.2 379.8 650.3 369.5 651.5 389 C652.7 408.5 655.6 454.7 658.3 494.8 C661 534.9 664.6 584.6 667.7 629.5 C670.8 674.4 674.1 725.9 677.1 764.3 C680.1 802.7 682.8 826.1 685.5 860 C688.2 893.9 690.9 931.9 693.3 967.8 C695.7 1003.7 697.8 1043.6 700 1075.6 C702.2 1107.6 704.1 1132.5 706.6 1160 C709.1 1187.5 712 1217.3 714.7 1240.9 C717.4 1264.5 719.8 1285.7 722.8 1301.5 C725.8 1317.3 730 1328.5 732.9 1335.9 C735.8 1343.3 737.6 1343.5 740 1346 C742.4 1348.5 744.7 1349.8 747 1350.6 C749.3 1351.4 751.5 1351.3 754 1350.8 C756.5 1350.3 758.5 1350.3 762 1347.5 C765.5 1344.7 769.9 1339.5 775 1334.1 C780.1 1328.6 786.8 1321.2 792.6 1314.8 C798.5 1308.4 804.3 1300.6 810.1 1295.5 C815.9 1290.4 821.8 1287.1 827.6 1284.2 C833.4 1281.3 839.3 1278.7 845.1 1278 C850.9 1277.3 856.8 1277.9 862.6 1279.8 C868.5 1281.7 874.4 1285.6 880.2 1289.4 C886.1 1293.2 891.9 1298.1 897.7 1302.6 C903.5 1307.1 909.4 1311.9 915.2 1316.6 C921 1321.3 926.9 1325.8 932.7 1330.6 C938.5 1335.4 944.4 1341 950.2 1345.5 C956.1 1350 961.9 1354.2 967.8 1357.7 C973.6 1361.2 979.8 1364.4 985.3 1366.5 C990.8 1368.6 993 1372.6 1001 1370.5 C1009 1368.4 1022.2 1364.6 1033 1353.7 C1043.8 1342.8 1054.7 1322.8 1065.5 1305 C1076.3 1287.2 1088.3 1262.9 1098 1247 C1107.7 1231.1 1114.5 1213 1123.7 1209.8 C1132.9 1206.6 1143.7 1214.9 1152.9 1227.6 C1162.1 1240.3 1170.1 1265.3 1178.7 1285.8 C1187.3 1306.3 1196.5 1334.3 1204.6 1350.5 C1212.6 1366.7 1217.8 1374.3 1227 1382.9 C1236.2 1391.5 1248.8 1397.8 1259.6 1402 C1270.4 1406.2 1283.6 1407.2 1292 1408.2 C1300.4 1409.2 1307 1408.2 1310 1408.2" stroke="#808000" stroke-width="5.2" fill="none" stroke-linejoin="round" stroke-linecap="round"/>
<path d="M1310 1408.2 L1317.6 1408.5 L1327.3 1406.9 L1335.4 1403.7 L1343.5 1408.5 L1353.2 1410.1 L1366.2 1411 L1377.5 1404.5" stroke="#808000" stroke-width="5.2" fill="none" stroke-linejoin="round" stroke-linecap="round"/>
<path d="M1414.5 1436.5 L1416 1436.3 L1417.5 1436.2 L1419 1436 L1420.5 1435.9 L1422 1435.7 L1423.5 1435.6 L1425 1435.4 L1426.5 1435.2 L1428 1435 L1429.5 1434.8 L1431 1434.6 L1432.5 1434.4 L1434 1434.2 L1435.5 1433.9 L1437 1433.7 L1438.5 1433.4 L1440 1433.2 L1441.5 1432.9 L1443 1432.6 L1444.5 1432.3 L1446 1432 L1447.5 1431.6 L1449 1431.3 L1450.5 1430.9 L1452 1430.5 L1453.5 1430.1 L1455 1429.7 L1456.5 1429.3 L1458 1428.9 L1459.5 1428.4 L1461 1427.9 L1462.5 1427.4 L1464 1426.9 L1465.5 1426.4 L1467 1425.8 L1468.5 1425.3 L1470 1424.7 L1471.5 1424.1 L1473 1423.4 L1474.5 1422.8 L1476 1422.1 L1477.5 1421.4 L1479 1420.6 L1480.5 1419.9 L1482 1419.1 L1483.5 1418.3 L1485 1417.5 L1486.5 1416.6 L1488 1415.8 L1489.5 1414.9 L1491 1413.9 L1492.5 1413 L1494 1412 L1495.5 1411 L1497 1410 L1498.5 1408.9 L1500 1407.8 L1501.5 1406.7 L1503 1405.6 L1504.5 1404.4 L1506 1403.2 L1507.5 1402 L1509 1400.8 L1510.5 1399.5 L1512 1398.2 L1513.5 1396.9 L1515 1395.6 L1516.5 1394.3 L1518 1392.9 L1519.5 1391.5 L1521 1390.2 L1522.5 1388.8 L1524 1387.3 L1525.5 1385.9 L1527 1384.5 L1528.5 1383 L1530 1381.5 L1531.5 1380.1 L1533 1378.6 L1534.5 1377.1 L1536 1375.6 L1537.5 1374 L1539 1372.5 L1540.5 1371 L1542 1369.5 L1543.5 1367.9 L1545 1366.4 L1546.5 1364.8 L1548 1363.3 L1549.5 1361.8 L1551 1360.2 L1552.5 1358.7 L1554 1357.2 L1555.5 1355.6 L1557 1354.1 L1558.5 1352.6 L1560 1351.2 L1561.5 1349.7 L1563 1348.3 L1564.5 1346.9 L1566 1345.5 L1567.5 1344.1 L1569 1342.8 L1570.5 1341.5 L1572 1340.3 L1573.5 1339.1 L1575 1337.9 L1576.5 1336.8 L1578 1335.7 L1579.5 1334.6 L1581 1333.6 L1582.5 1332.7 L1584 1331.8 L1585.5 1331 L1587 1330.2 L1588.5 1329.5 L1590 1328.8 L1591.5 1328.2 L1593 1327.7 L1594.5 1327.2 L1596 1326.8 L1597.5 1326.4 L1599 1326.1 L1600.5 1325.9 L1602 1325.8 L1603.5 1325.7 L1605 1325.7 L1606.5 1325.7 L1608 1325.9 L1609.5 1326.1 L1611 1326.3 L1612.5 1326.7 L1614 1327.1 L1615.5 1327.6 L1617 1328.2 L1618.5 1328.8 L1620 1329.5 L1621.5 1330.2 L1623 1331.1 L1624.5 1332 L1626 1332.9 L1627.5 1333.9 L1629 1335 L1630.5 1336.1 L1632 1337.3 L1633.5 1338.5 L1635 1339.8 L1636.5 1341.1 L1638 1342.4 L1639.5 1343.8 L1641 1345.3 L1642.5 1346.8 L1644 1348.3 L1645.5 1349.8 L1647 1351.4 L1648.5 1353 L1650 1354.6 L1651.5 1356.3 L1653 1357.9 L1654.5 1359.6 L1656 1361.3 L1657.5 1363 L1659 1364.8 L1660.5 1366.5 L1662 1368.3 L1663.5 1370 L1665 1371.8 L1666.5 1373.5 L1668 1375.3 L1669.5 1377 L1671 1378.8 L1672.5 1380.5 L1674 1382.3 L1675.5 1384 L1677 1385.7 L1678.5 1387.4 L1680 1389.1 L1681.5 1390.8 L1683 1392.5 L1684.5 1394.1 L1686 1395.7 L1687.5 1397.3 L1689 1398.9 L1690.5 1400.5 L1692 1402 L1693.5 1403.5 L1695 1405 L1696.5 1406.4 L1698 1407.8 L1699.5 1409.2 L1701 1410.5 L1702.5 1411.9 L1704 1413.1 L1705.5 1414.4 L1707 1415.6 L1708.5 1416.7 L1710 1417.8 L1711.5 1418.9 L1713 1419.9 L1714.5 1420.9 L1716 1421.9 L1717.5 1422.7 L1719 1423.6 L1720.5 1424.4 L1722 1425.1 L1723.5 1425.8 L1725 1426.4 L1726.5 1427 L1728 1427.5 L1729.5 1428 L1731 1428.4 L1732.5 1428.7 L1734 1429 L1735.5 1429.2 L1737 1429.4 L1738.5 1429.4 L1740 1429.5 L1741.5 1429.4 L1743 1429.2 L1744.5 1429 L1746 1428.7 L1747.5 1428.3 L1749 1427.9 L1750.5 1427.3 L1752 1426.7 L1753.5 1425.9 L1755 1425.1 L1756.5 1424.2 L1758 1423.1 L1759.5 1422 L1761 1420.8 L1762.5 1419.5 L1764 1418 L1765.5 1416.5 L1767 1414.8 L1768.5 1413 L1770 1411.1 L1771.5 1409.1 L1773 1407 L1774.5 1404.7 L1776 1402.3 L1777.5 1399.8 L1779 1397.2 L1780.5 1394.4 L1782 1391.6 L1783.5 1388.6 L1785 1385.4 L1786.5 1382.2 L1788 1378.8 L1789.5 1375.3 L1791 1371.7 L1792.5 1367.9 L1794 1364.1 L1795.5 1360.1 L1797 1356 L1798.5 1351.8 L1800 1347.5 L1801.5 1343.1 L1803 1338.5 L1804.5 1333.9 L1806 1329.2 L1807.5 1324.5 L1809 1319.6 L1810.5 1314.7 L1812 1309.7 L1813.5 1304.7 L1815 1299.6 L1816.5 1294.5 L1818 1289.3 L1819.5 1284.2 L1821 1279 L1822.5 1273.8 L1824 1268.7 L1825.5 1263.5 L1827 1258.4 L1828.5 1253.3 L1830 1248.3 L1831.5 1243.3 L1833 1238.4 L1834.5 1233.5 L1836 1228.8 L1837.5 1224.1 L1839 1219.6 L1840.5 1215.1 L1842 1210.8 L1843.5 1206.7 L1845 1202.6 L1846.5 1198.8 L1848 1195.1 L1849.5 1191.6 L1851 1188.2 L1852.5 1185.1 L1854 1182.2 L1855.5 1179.5 L1857 1177 L1858.5 1174.7 L1860 1172.7 L1861.5 1170.9 L1863 1169.4 L1864.5 1168.1 L1866 1167.1 L1867.5 1166.4 L1869 1166 L1870.5 1165.8 L1872 1165.9 L1873.5 1166.4 L1875 1167.1 L1876.5 1168 L1878 1169.3 L1879.5 1170.8 L1881 1172.6 L1882.5 1174.6 L1884 1176.9 L1885.5 1179.5 L1887 1182.3 L1888.5 1185.3 L1890 1188.6 L1891.5 1192.1 L1893 1195.7 L1894.5 1199.6 L1896 1203.7 L1897.5 1207.9 L1899 1212.4 L1900.5 1216.9 L1902 1221.6 L1903.5 1226.5 L1905 1231.5 L1906.5 1236.7 L1908 1242 L1909.5 1247.4 L1911 1252.9 L1912.5 1258.4 L1914 1264.1 L1915.5 1269.8 L1917 1275.6 L1918.5 1281.4 L1920 1287.2 L1921.5 1293.1 L1923 1299 L1924.5 1304.8 L1926 1310.7 L1927.5 1316.5 L1929 1322.3 L1930.5 1328 L1932 1333.7 L1933.5 1339.4 L1935 1344.9 L1936.5 1350.4 L1938 1355.8 L1939.5 1361.1 L1941 1366.3 L1942.5 1371.4 L1944 1376.5 L1945.5 1381.4 L1947 1386.2 L1948.5 1391 L1950 1395.6 L1951.5 1400.1 L1953 1404.5 L1954.5 1408.8 L1956 1412.9 L1957.5 1417 L1959 1420.9 L1960.5 1424.7 L1962 1428.4 L1963.5 1431.9 L1965 1435.4 L1966.5 1438.7 L1968 1441.9 L1969.5 1444.9 L1971 1447.9 L1972.5 1450.8 L1974 1453.5 L1975.5 1456.1 L1977 1458.6 L1978.5 1461.1 L1980 1463.4 L1981.5 1465.6 L1983 1467.7 L1984.5 1469.7 L1986 1471.6 L1987.5 1473.4 L1989 1475.2 L1990.5 1476.8 L1992 1478.4 L1993.5 1479.9 L1995 1481.3 L1996.5 1482.6 L1998 1483.9 L1999.5 1485.1 L2001 1486.2 L2002.5 1487.3 L2004 1488.3 L2005.5 1489.3 L2007 1490.2 L2008.5 1491 L2010 1491.8 L2011.5 1492.6 L2013 1493.3 L2014.5 1494 L2016 1494.6 L2017.5 1495.2 L2019 1495.7 L2020.5 1496.3 L2022 1496.8 L2023.5 1497.2 L2025 1497.6 L2026.5 1498 L2028 1498.4 L2029.5 1498.8 L2031 1499.1 L2032.5 1499.4 L2034 1499.7 L2035.5 1500 L2037 1500.2 L2038.5 1500.5 L2040 1500.7 L2041.5 1500.9 L2043 1501.1 L2044.5 1501.3 L2046 1501.5 L2047.5 1501.6 L2049 1501.8 L2050.5 1501.9 L2052 1502.1 L2053.5 1502.2 L2055 1502.3 L2056.5 1502.4 L2058 1502.6 L2059.5 1502.7 L2061 1502.8 L2062.5 1502.9 L2064 1502.9 L2065.5 1503 L2067 1503.1 L2068.5 1503.2 L2070 1503.3" stroke="#808000" stroke-width="5.2" fill="none" stroke-linejoin="round" stroke-linecap="round"/>
<path d="M2070 1503.3 L2080 1505 L2093 1507.7 L2100 1506 L2108 1502.5 L2117 1506.4" stroke="#808000" stroke-width="5.2" fill="none" stroke-linejoin="round" stroke-linecap="round"/>
</g>
<line x1="929" y1="1024.7" x2="871.1" y2="1274.4" stroke="#000" stroke-width="3" stroke-linecap="butt"/>
<polygon points="863,1309.5 861.9,1272.3 880.4,1276.6" fill="#000"/>
<line x1="1014" y1="1092.7" x2="948.3" y2="1324.9" stroke="#000" stroke-width="3" stroke-linecap="butt"/>
<polygon points="938.5,1359.5 939.2,1322.3 957.4,1327.4" fill="#000"/>
<line x1="1174.3" y1="1175.5" x2="1138" y2="1251.9" stroke="#000" stroke-width="3" stroke-linecap="butt"/>
<polygon points="1122.6,1284.4 1129.5,1247.8 1146.6,1256" fill="#000"/>
<line x1="293" y1="2033.8" x2="293" y2="2092" stroke="#000" stroke-width="5.8" stroke-linecap="butt"/>
<line x1="291.5" y1="2091.5" x2="291.5" y2="3349" stroke="#000" stroke-width="6.6" stroke-linecap="butt"/>
<line x1="290" y1="2036.7" x2="383" y2="2036.7" stroke="#000" stroke-width="5.8" stroke-linecap="butt"/>
<line x1="382.5" y1="2036.1" x2="1051.5" y2="2036.1" stroke="#000" stroke-width="6" stroke-linecap="butt"/>
<line x1="1048.5" y1="2033.5" x2="1048.5" y2="3349" stroke="#000" stroke-width="6.6" stroke-linecap="butt"/>
<line x1="289" y1="3346" x2="1051.5" y2="3346" stroke="#000" stroke-width="6.6" stroke-linecap="butt"/>
<line x1="442.5" y1="3346" x2="442.5" y2="3377" stroke="#000" stroke-width="5.8" stroke-linecap="butt"/>
<line x1="821.3" y1="3346" x2="821.3" y2="3377" stroke="#000" stroke-width="5.8" stroke-linecap="butt"/>
<line x1="631.9" y1="3346" x2="631.9" y2="3363" stroke="#000" stroke-width="5.8" stroke-linecap="butt"/>
<line x1="1010.7" y1="3346" x2="1010.7" y2="3363" stroke="#000" stroke-width="5.8" stroke-linecap="butt"/>
<path d="M358.6 3132.4 L364 3133.6 L370.8 3123.7 L372.6 3106.1 L377.9 3100.9 L384.9 3100.9 L390.1 3109.6 L395.4 3121.9 L400.6 3116.6 L405.9 3065.8 L412.9 3067.6 L418.1 3072.9 L429.3 3110.2 L435.4 3055.7 L443.5 3045.5 L452.6 3020.3 L460.6 3049.6 L476.8 3053.6 L480.9 3037.5 L490 3002 L500 2978 L509.2 2960.6 L516 2930 L521 2900 L520.2 2883 L524.3 2842.6 L530.3 2822.4 L540.4 2786 L546.5 2761.7 L552.6 2701.1 L556.6 2670.8 L564.7 2648.5 L580.9 2644.5 L588.9 2620.2 L590 2610 L595 2542.3 L601.1 2491.7 L605.1 2441.2 L610.2 2388.6 L619.3 2414.9 L626.3 2396.7 L634.4 2406.8 L641.5 2347.2 L649.6 2380.5 L663.7 2442.2 L670.8 2366.4 L679.9 2366.4 L688 2406.8 L698.1 2461.4 L706.2 2522 L712.2 2562.5 L717.3 2596.8 L722.4 2596.8 L728.4 2600.9 L736.5 2630 L740.5 2640.4 L744.6 2670.8 L756.7 2741.5 L762.8 2792 L762 2805 L768.9 2842.6 L774.9 2893.1 L783.4 2951 L799.6 3019.7 L809.7 3027.8 L809.7 3052 L814 3095.1 L825.3 3127.2 L836.6 3123.4 L846 3155.5 L855.5 3193.2 L866.8 3227.2 L874.3 3236.6 L878.1 3246 L883.8 3274.3 L889.4 3297 L898.9 3304.5 L908.3 3289.4 L921.5 3323.4 L925.3 3310.2 L936.6 3280 L944.2 3287.5 L953.6 3321.5 L961.1 3332.8 L968.7 3334.7 L976.2 3342.3 L980 3344" stroke="#000" stroke-width="5" fill="none" stroke-linejoin="round" stroke-linecap="round"/>
<path d="M369.4 3111.6 C372.8 3111.5 383.2 3111.5 390 3111 C396.8 3110.5 401.6 3112 410 3108.5 C418.4 3105 432.1 3096.8 440.4 3090 C448.7 3083.2 453.2 3079.4 460 3068 C466.8 3056.6 472.7 3039.3 480.9 3021.3 C489.1 3003.3 502.8 2975.1 509 2960 C515.2 2944.9 514.9 2940.8 518 2931 C521.1 2921.2 523.9 2914.3 527.8 2901.5 C531.7 2888.7 536.8 2871.2 541.3 2854.3 C545.8 2837.5 550.5 2816.1 554.8 2800.4 C559.1 2784.7 562.5 2774.9 566.9 2760 C571.2 2745.1 576.9 2723.7 580.9 2711.2 C584.9 2698.7 587 2693.7 591 2684.9 C595 2676.1 599.9 2664.8 605.1 2658.6 C610.3 2652.4 616.6 2648.2 622.3 2647.5 C628 2646.8 634.3 2649 639.5 2654.6 C644.7 2660.2 648.9 2668.1 653.6 2680.9 C658.3 2693.7 663.1 2713.6 667.8 2731.4 C672.5 2749.2 677.5 2769.5 681.9 2788 C686.3 2806.5 691 2829.9 694.1 2842.6 C697.2 2855.3 698.1 2854.4 700.5 2864 C702.9 2873.6 704.8 2885.5 708.2 2900 C711.6 2914.5 715.3 2927.3 720.8 2951 C726.3 2974.7 734.3 3015.6 741 3041.9 C747.7 3068.2 754.7 3089.4 761.2 3108.6 C767.7 3127.8 773.7 3141.3 780 3157 C786.3 3172.7 792.6 3188.1 798.9 3202.6 C805.2 3217.1 809.9 3231 817.7 3244.2 C825.6 3257.4 836.6 3271.5 846 3281.9 C855.4 3292.3 863.3 3298.9 874.3 3306.4 C885.3 3313.9 899.5 3321.4 912.1 3327.2 C924.7 3333 941.5 3338.5 949.8 3341.3 C958.1 3344.1 960 3343.6 962 3344" stroke="#00FF00" stroke-width="5" fill="none" stroke-linejoin="round" stroke-linecap="round"/>
<path d="M369.4 3119 C374.5 3120.9 388.2 3126.5 400 3130.4 C411.8 3134.3 426.9 3139.4 440.4 3142.6 C453.9 3145.8 471 3148.7 480.9 3149.6 C490.8 3150.5 494.3 3149.1 500 3148 C505.7 3146.9 509.4 3145.6 515 3143 C520.6 3140.4 528.2 3136.5 533.5 3132.5 C538.8 3128.5 542.5 3123.9 547 3119 C551.5 3114.1 555.9 3108.9 560.4 3102.8 C564.9 3096.7 569.4 3090 573.9 3082.6 C578.4 3075.2 582.9 3066.8 587.4 3058.3 C591.9 3049.8 596.4 3040.8 600.9 3031.4 C605.4 3022 609.8 3012 614.3 3001.7 C618.8 2991.4 623.3 2979.9 627.8 2969.4 C632.3 2958.9 636.8 2948.3 641.3 2938.4 C645.8 2928.5 650.3 2918.6 654.8 2910.1 C659.3 2901.6 663.7 2893.7 668.2 2887.2 C672.7 2880.7 677.2 2875.3 681.7 2871 C686.2 2866.7 691.8 2863.3 695.2 2861.6 C698.6 2859.8 697.8 2859 702 2860.5 C706.2 2862 715 2864.8 720.4 2870.4 C725.8 2876 729.5 2885.4 734.1 2894 C738.7 2902.6 743.2 2911.2 747.7 2922 C752.2 2932.8 756.8 2946 761.3 2959 C765.8 2972 770.3 2986.3 774.9 2999.9 C779.5 3013.5 784 3027.3 788.6 3040.7 C793.2 3054 797.8 3067.1 802.2 3080 C806.6 3092.9 810.4 3104.7 815 3118 C819.6 3131.3 823.9 3143.8 830 3160 C836.1 3176.2 844.3 3198 851.7 3215 C859.1 3232 865.8 3247.7 874.3 3262 C882.8 3276.3 893.2 3290.2 902.6 3300.8 C912 3311.4 922.4 3318.6 930.9 3325.3 C939.4 3332.1 949.8 3338.6 953.6 3341.3" stroke="#FF00FF" stroke-width="5.5" fill="none" stroke-linejoin="round" stroke-linecap="round"/>
<path d="M295.8 3065.3 L308.9 3052.2 L320 3095.6 L330.5 3102.6 L337.6 3085.1 L348 3083.4 L355 3097.4 L361.2 3125.4 L369 3111.4" stroke="#FF00FF" stroke-width="7" fill="none" stroke-linejoin="round" stroke-linecap="round"/>
<path d="M366.7 3121 L952.8 3343.9" stroke="#FF0000" stroke-width="3" fill="none" stroke-linejoin="round" stroke-linecap="round"/>
<path d="M295.8 3065.3 L308.9 3052.2 L320 3095.6 L330.5 3102.6 L337.6 3085.1 L348 3083.4 L355 3097.4 L361.2 3125.4 L369 3111.4" stroke="#808000" stroke-width="5.8" fill="none" stroke-linejoin="round" stroke-linecap="round"/>
<path d="M369 3111.4 C372.5 3111.2 383.6 3111.4 390 3110.5 C396.4 3109.6 402.6 3107.8 407.6 3106.1 C412.6 3104.4 414.7 3103.4 420.2 3100.1 C425.7 3096.8 433.7 3092.7 440.4 3086 C447.1 3079.3 453.9 3071.2 460.6 3059.7 C467.4 3048.2 475.2 3031 480.9 3017.2 C486.6 3003.4 491.3 2988 495 2976.8 C498.7 2965.6 500.5 2958.1 503 2950 C505.5 2941.9 507.4 2935.7 510 2928 C512.6 2920.3 515.2 2915 518.4 2904 C521.6 2893 525.8 2877 529.2 2862 C532.6 2847 535.7 2830.6 538.6 2813.9 C541.5 2797.2 544.7 2774.1 546.7 2762 C548.7 2749.9 548.2 2753.3 550.5 2741.5 C552.8 2729.7 557.4 2707.8 560.6 2691 C563.8 2674.2 566.3 2660.1 569.7 2640.4 C573.1 2620.7 577.4 2592.3 580.9 2572.6 C584.4 2552.9 587.6 2537.2 591 2522 C594.4 2506.8 597.7 2493.7 601.1 2481.6 C604.5 2469.5 607.8 2459.4 611.2 2449.3 C614.6 2439.2 617.9 2429.4 621.3 2421 C624.7 2412.6 628 2404.8 631.4 2398.7 C634.8 2392.6 637.8 2388 641.5 2384.6 C645.2 2381.2 649.6 2378.7 653.6 2378.5 C657.6 2378.3 662.1 2380.6 665.8 2383.6 C669.5 2386.6 672.5 2390.5 675.9 2396.7 C679.3 2402.9 682.6 2411.9 686 2421 C689.4 2430.1 692.7 2439.5 696.1 2451.3 C699.5 2463.1 702.8 2476.5 706.2 2491.7 C709.6 2506.9 713.1 2524.6 716.3 2542.3 C719.5 2560 722.4 2581.7 725.4 2598 C728.4 2614.3 731.5 2624.9 734.5 2640.4 C737.5 2655.9 740.7 2674.2 743.6 2691 C746.5 2707.8 749 2724.7 751.7 2741.5 C754.4 2758.3 756.9 2775.8 759.8 2792 C762.7 2808.2 766.6 2827.1 768.9 2838.5 C771.2 2849.9 772.2 2853.2 773.7 2860.2 C775.2 2867.2 776.5 2873.7 777.7 2880.4 C778.9 2887.1 780 2893.8 781.1 2900.6 C782.2 2907.3 783.5 2914.3 784.5 2920.9 C785.5 2927.5 785.4 2929.5 787.2 2940 C789 2950.5 792.2 2969.2 795.4 2984 C798.6 2998.8 802.9 3015 806.3 3029 C809.7 3043 812.6 3054.7 815.8 3068 C819 3081.3 821.9 3095.2 825.3 3108.9 C828.7 3122.6 832.1 3136.5 836.2 3150 C840.3 3163.5 846.1 3178.7 849.9 3190 C853.7 3201.3 854.5 3206.5 859.2 3218 C863.9 3229.5 870.9 3247 878.1 3259.2 C885.3 3271.4 893.8 3281.2 902.6 3291.3 C911.4 3301.4 921.5 3311.7 930.9 3319.6 C940.3 3327.5 952.4 3334.6 959.2 3338.5 C966.1 3342.4 969.9 3342.2 972 3343" stroke="#808000" stroke-width="5.8" fill="none" stroke-linejoin="round" stroke-linecap="round"/>
<path d="M990 3343.5 L997.9 3340.5 L1004 3343.5 L1014 3343 L1027.2 3296 L1043.5 3339" stroke="#808000" stroke-width="5.8" fill="none" stroke-linejoin="round" stroke-linecap="round"/>
<line x1="1364" y1="2036" x2="1364" y2="2088.5" stroke="#000" stroke-width="6.7" stroke-linecap="butt"/>
<line x1="1363.5" y1="2088" x2="1363.5" y2="3349" stroke="#000" stroke-width="6.8" stroke-linecap="butt"/>
<line x1="1361" y1="2039.5" x2="1455.5" y2="2039.5" stroke="#000" stroke-width="5.6" stroke-linecap="butt"/>
<line x1="1455" y1="2038.5" x2="2109.5" y2="2038.5" stroke="#000" stroke-width="6.2" stroke-linecap="butt"/>
<line x1="2106.5" y1="2035.5" x2="2106.5" y2="3349" stroke="#000" stroke-width="6.5" stroke-linecap="butt"/>
<line x1="1361" y1="3346" x2="2109.5" y2="3346" stroke="#000" stroke-width="6.6" stroke-linecap="butt"/>
<line x1="1455.7" y1="3346" x2="1455.7" y2="3377" stroke="#000" stroke-width="5.8" stroke-linecap="butt"/>
<line x1="1641.3" y1="3346" x2="1641.3" y2="3377" stroke="#000" stroke-width="5.8" stroke-linecap="butt"/>
<line x1="1827" y1="3346" x2="1827" y2="3377" stroke="#000" stroke-width="5.8" stroke-linecap="butt"/>
<line x1="2012.6" y1="3346" x2="2012.6" y2="3377" stroke="#000" stroke-width="5.8" stroke-linecap="butt"/>
<line x1="1362.9" y1="3346" x2="1362.9" y2="3363" stroke="#000" stroke-width="5.8" stroke-linecap="butt"/>
<line x1="1548.5" y1="3346" x2="1548.5" y2="3363" stroke="#000" stroke-width="5.8" stroke-linecap="butt"/>
<line x1="1734.2" y1="3346" x2="1734.2" y2="3363" stroke="#000" stroke-width="5.8" stroke-linecap="butt"/>
<line x1="1919.8" y1="3346" x2="1919.8" y2="3363" stroke="#000" stroke-width="5.8" stroke-linecap="butt"/>
<line x1="2105.4" y1="3346" x2="2105.4" y2="3363" stroke="#000" stroke-width="5.8" stroke-linecap="butt"/>
<line x1="1752.6" y1="2186.3" x2="1752.6" y2="3190" stroke="#000" stroke-width="3" stroke-linecap="butt" stroke-dasharray="14 7.2"/>
<path d="M1366 2852.3 L1374 2867.4 L1383.7 2875 L1392.3 2893.3 L1403.1 2904.1 L1411.8 2918.1 L1422.5 2923.5 L1431.2 2922.4 L1446.3 2913.8 L1459.2 2904.1 L1465.7 2905.2 L1474.3 2906.3 L1484 2898.7 L1489.4 2886.8 L1492.6 2868.5 L1498 2855.6 L1505.6 2841.6 L1513.1 2826.5 L1521.3 2822 L1544.4 2753 L1562.3 2722.4 L1570 2671 L1585.3 2620 L1600.7 2563.6 L1616 2512.4 L1631.4 2451 L1652 2399.7 L1667.3 2328 L1680 2276.8 L1698 2253.8 L1710 2256 L1721 2261.5 L1741.5 2269 L1749.2 2266.6 L1764.6 2297.3 L1780 2379 L1790 2460 L1800.4 2548.3 L1815.8 2594.3 L1836.3 2737.7 L1855 2810 L1872 2870.9 L1892.6 2932.4 L1915.7 3000 L1922.2 3014.7 L1938.4 3019 L1965.3 3055 L1986.9 3044.3 L2008.5 3062 L2040.8 3075 L2054.3 3067.5 L2065 3084.8 L2089.3 3089 L2097.4 3103.6 L2103 3103.6" stroke="#000" stroke-width="4.4" fill="none" stroke-linejoin="round" stroke-linecap="round"/>
<path d="M1366.5 2980.9 L1368.5 2980.6 L1370.5 2980.3 L1372.5 2980 L1374.5 2979.7 L1376.5 2979.3 L1378.5 2979 L1380.5 2978.6 L1382.5 2978.2 L1384.5 2977.8 L1386.5 2977.3 L1388.5 2976.8 L1390.5 2976.3 L1392.5 2975.8 L1394.5 2975.3 L1396.5 2974.7 L1398.5 2974.1 L1400.5 2973.4 L1402.5 2972.8 L1404.5 2972.1 L1406.5 2971.3 L1408.5 2970.6 L1410.5 2969.8 L1412.5 2968.9 L1414.5 2968.1 L1416.5 2967.1 L1418.5 2966.2 L1420.5 2965.2 L1422.5 2964.2 L1424.5 2963.1 L1426.5 2961.9 L1428.5 2960.8 L1430.5 2959.5 L1432.5 2958.2 L1434.5 2956.9 L1436.5 2955.5 L1438.5 2954.1 L1440.5 2952.6 L1442.5 2951 L1444.5 2949.4 L1446.5 2947.8 L1448.5 2946 L1450.5 2944.2 L1452.5 2942.4 L1454.5 2940.5 L1456.5 2938.5 L1458.5 2936.4 L1460.5 2934.3 L1462.5 2932.1 L1464.5 2929.9 L1466.5 2927.5 L1468.5 2925.1 L1470.5 2922.6 L1472.5 2920.1 L1474.5 2917.5 L1476.5 2914.8 L1478.5 2912 L1480.5 2909.2 L1482.5 2906.3 L1484.5 2903.3 L1486.5 2900.2 L1488.5 2897.1 L1490.5 2893.9 L1492.5 2890.6 L1494.5 2887.2 L1496.5 2883.8 L1498.5 2880.3 L1500.5 2876.7 L1502.5 2873 L1504.5 2869.3 L1506.5 2865.5 L1508.5 2861.7 L1510.5 2857.8 L1512.5 2853.8 L1514.5 2849.7 L1516.5 2845.6 L1518.5 2841.5 L1520.5 2837.2 L1522.5 2833 L1524.5 2828.6 L1526.5 2824.2 L1528.5 2819.8 L1530.5 2815.3 L1532.5 2810.8 L1534.5 2806.2 L1536.5 2801.6 L1538.5 2796.9 L1540.5 2792.2 L1542.5 2787.5 L1544.5 2782.7 L1546.5 2778 L1548.5 2773.2 L1550.5 2768.3 L1552.5 2763.5 L1554.5 2758.7 L1556.5 2753.8 L1558.5 2749 L1560.5 2744.2 L1562.5 2739.4 L1564.5 2734.6 L1566.5 2729.9 L1568.5 2725.2 L1570.5 2720.5 L1572.5 2715.9 L1574.5 2711.3 L1576.5 2706.7 L1578.5 2702.2 L1580.5 2697.8 L1582.5 2693.4 L1584.5 2689.1 L1586.5 2684.9 L1588.5 2680.7 L1590.5 2676.6 L1592.5 2672.6 L1594.5 2668.7 L1596.5 2664.9 L1598.5 2661.2 L1600.5 2657.5 L1602.5 2654 L1604.5 2650.6 L1606.5 2647.3 L1608.5 2644.1 L1610.5 2641 L1612.5 2638.1 L1614.5 2635.3 L1616.5 2632.7 L1618.5 2630.2 L1620.5 2627.8 L1622.5 2625.6 L1624.5 2623.6 L1626.5 2621.8 L1628.5 2620.1 L1630.5 2618.6 L1632.5 2617.3 L1634.5 2616.1 L1636.5 2615.2 L1638.5 2614.4 L1640.5 2613.8 L1642.5 2613.4 L1644.5 2613.3 L1646.5 2613.3 L1648.5 2613.5 L1650.5 2613.9 L1652.5 2614.5 L1654.5 2615.3 L1656.5 2616.3 L1658.5 2617.5 L1660.5 2618.9 L1662.5 2620.5 L1664.5 2622.3 L1666.5 2624.3 L1668.5 2626.5 L1670.5 2628.9 L1672.5 2631.6 L1674.5 2634.4 L1676.5 2637.4 L1678.5 2640.5 L1680.5 2643.9 L1682.5 2647.4 L1684.5 2651.1 L1686.5 2654.9 L1688.5 2658.9 L1690.5 2663.1 L1692.5 2667.4 L1694.5 2671.8 L1696.5 2676.3 L1698.5 2681 L1700.5 2685.8 L1702.5 2690.6 L1704.5 2695.6 L1706.5 2700.7 L1708.5 2705.8 L1710.5 2711 L1712.5 2716.3 L1714.5 2721.7 L1716.5 2727.1 L1718.5 2732.5 L1720.5 2738 L1722.5 2743.5 L1724.5 2749.1 L1726.5 2754.8 L1728.5 2760.4 L1730.5 2766.1 L1732.5 2771.8 L1734.5 2777.5 L1736.5 2783.3 L1738.5 2789 L1740.5 2794.8 L1742.5 2800.6 L1744.5 2806.3 L1746.5 2812.1 L1748.5 2817.9 L1750.5 2823.7 L1752.5 2829.4 L1754.5 2835.1 L1756.5 2840.9 L1758.5 2846.6 L1760.5 2852.2 L1762.5 2857.9 L1764.5 2863.5 L1766.5 2869 L1768.5 2874.6 L1770.5 2880 L1772.5 2885.5 L1774.5 2890.8 L1776.5 2896.1 L1778.5 2901.4 L1780.5 2906.6 L1782.5 2911.7 L1784.5 2916.7 L1786.5 2921.7 L1788.5 2926.6 L1790.5 2931.4 L1792.5 2936.1 L1794.5 2940.8 L1796.5 2945.3 L1798.5 2949.8 L1800.5 2954.2 L1802.5 2958.6 L1804.5 2962.8 L1806.5 2967 L1808.5 2971.1 L1810.5 2975.1 L1812.5 2979 L1814.5 2982.9 L1816.5 2986.6 L1818.5 2990.3 L1820.5 2993.9 L1822.5 2997.4 L1824.5 3000.9 L1826.5 3004.2 L1828.5 3007.5 L1830.5 3010.7 L1832.5 3013.8 L1834.5 3016.8 L1836.5 3019.7 L1838.5 3022.6 L1840.5 3025.3 L1842.5 3028 L1844.5 3030.6 L1846.5 3033.1 L1848.5 3035.5 L1850.5 3037.9 L1852.5 3040.2 L1854.5 3042.3 L1856.5 3044.5 L1858.5 3046.5 L1860.5 3048.5 L1862.5 3050.5 L1864.5 3052.3 L1866.5 3054.1 L1868.5 3055.9 L1870.5 3057.6 L1872.5 3059.2 L1874.5 3060.8 L1876.5 3062.3 L1878.5 3063.8 L1880.5 3065.2 L1882.5 3066.5 L1884.5 3067.9 L1886.5 3069.1 L1888.5 3070.3 L1890.5 3071.5 L1892.5 3072.6 L1894.5 3073.7 L1896.5 3074.7 L1898.5 3075.7 L1900.5 3076.7 L1902.5 3077.6 L1904.5 3078.4 L1906.5 3079.3 L1908.5 3080.1 L1910.5 3080.8 L1912.5 3081.6 L1914.5 3082.3 L1916.5 3083 L1918.5 3083.6 L1920.5 3084.2 L1922.5 3084.8 L1924.5 3085.4 L1926.5 3086 L1928.5 3086.5 L1930.5 3087 L1932.5 3087.5 L1934.5 3088 L1936.5 3088.4 L1938.5 3088.9 L1940.5 3089.3 L1942.5 3089.7 L1944.5 3090.1 L1946.5 3090.5 L1948.5 3090.8 L1950.5 3091.2 L1952.5 3091.5 L1954.5 3091.8 L1956.5 3092.1 L1958.5 3092.4 L1960.5 3092.7 L1962.5 3092.9 L1964.5 3093.2 L1966.5 3093.4 L1968.5 3093.7 L1970.5 3093.9 L1972.5 3094.1 L1974.5 3094.3 L1976.5 3094.5 L1978.5 3094.7 L1980.5 3094.9 L1982.5 3095.1 L1984.5 3095.3 L1986.5 3095.4 L1988.5 3095.6 L1990.5 3095.7 L1992.5 3095.9 L1994.5 3096 L1996.5 3096.2 L1998.5 3096.3 L2000.5 3096.4 L2002.5 3096.6 L2004.5 3096.7 L2006.5 3096.8 L2008.5 3096.9 L2010.5 3097.1 L2012.5 3097.2 L2014.5 3097.3 L2016.5 3097.4 L2018.5 3097.5 L2020.5 3097.6 L2022.5 3097.7 L2024.5 3097.8 L2026.5 3097.9 L2028.5 3098 L2030.5 3098.1 L2032.5 3098.2 L2034.5 3098.3 L2036.5 3098.4 L2038.5 3098.4 L2040.5 3098.5 L2042.5 3098.6 L2044.5 3098.7 L2046.5 3098.8 L2048.5 3098.8 L2050.5 3098.9 L2052.5 3099 L2054.5 3099.1 L2056.5 3099.1 L2058.5 3099.2 L2060.5 3099.3 L2062.5 3099.3 L2064.5 3099.4 L2066.5 3099.5 L2068.5 3099.5 L2070.5 3099.6 L2072.5 3099.6 L2074.5 3099.7 L2076.5 3099.7 L2078.5 3099.8 L2080.5 3099.8 L2082.5 3099.9 L2084.5 3099.9 L2086.5 3100 L2088.5 3100 L2090.5 3100 L2092.5 3100.1 L2094.5 3100.1 L2096.5 3100.1 L2098.5 3100.2 L2100.5 3100.2 L2102.5 3100.2" stroke="#008000" stroke-width="3.3" fill="none" stroke-linejoin="round" stroke-linecap="round"/>
<path d="M1366.5 2991.4 L1368.5 2991.4 L1370.5 2991.5 L1372.5 2991.6 L1374.5 2991.6 L1376.5 2991.7 L1378.5 2991.8 L1380.5 2991.8 L1382.5 2991.9 L1384.5 2992 L1386.5 2992 L1388.5 2992.1 L1390.5 2992.2 L1392.5 2992.3 L1394.5 2992.3 L1396.5 2992.4 L1398.5 2992.5 L1400.5 2992.5 L1402.5 2992.6 L1404.5 2992.7 L1406.5 2992.8 L1408.5 2992.8 L1410.5 2992.9 L1412.5 2993 L1414.5 2993.1 L1416.5 2993.1 L1418.5 2993.2 L1420.5 2993.3 L1422.5 2993.4 L1424.5 2993.4 L1426.5 2993.5 L1428.5 2993.6 L1430.5 2993.7 L1432.5 2993.7 L1434.5 2993.8 L1436.5 2993.9 L1438.5 2994 L1440.5 2994 L1442.5 2994.1 L1444.5 2994.2 L1446.5 2994.2 L1448.5 2994.3 L1450.5 2994.3 L1452.5 2994.4 L1454.5 2994.4 L1456.5 2994.5 L1458.5 2994.5 L1460.5 2994.6 L1462.5 2994.6 L1464.5 2994.6 L1466.5 2994.7 L1468.5 2994.7 L1470.5 2994.7 L1472.5 2994.7 L1474.5 2994.7 L1476.5 2994.7 L1478.5 2994.7 L1480.5 2994.7 L1482.5 2994.7 L1484.5 2994.6 L1486.5 2994.6 L1488.5 2994.6 L1490.5 2994.5 L1492.5 2994.5 L1494.5 2994.4 L1496.5 2994.3 L1498.5 2994.2 L1500.5 2994.1 L1502.5 2994 L1504.5 2993.9 L1506.5 2993.7 L1508.5 2993.5 L1510.5 2993.4 L1512.5 2993.2 L1514.5 2993 L1516.5 2992.7 L1518.5 2992.5 L1520.5 2992.2 L1522.5 2991.9 L1524.5 2991.5 L1526.5 2991.2 L1528.5 2990.8 L1530.5 2990.3 L1532.5 2989.9 L1534.5 2989.4 L1536.5 2988.8 L1538.5 2988.2 L1540.5 2987.6 L1542.5 2986.9 L1544.5 2986.1 L1546.5 2985.3 L1548.5 2984.5 L1550.5 2983.6 L1552.5 2982.6 L1554.5 2981.5 L1556.5 2980.4 L1558.5 2979.3 L1560.5 2978 L1562.5 2976.7 L1564.5 2975.4 L1566.5 2973.9 L1568.5 2972.4 L1570.5 2970.8 L1572.5 2969.2 L1574.5 2967.4 L1576.5 2965.5 L1578.5 2963.6 L1580.5 2961.5 L1582.5 2959.4 L1584.5 2957.1 L1586.5 2954.7 L1588.5 2952.2 L1590.5 2949.6 L1592.5 2946.9 L1594.5 2944 L1596.5 2941 L1598.5 2937.8 L1600.5 2934.6 L1602.5 2931.1 L1604.5 2927.6 L1606.5 2923.9 L1608.5 2920 L1610.5 2916 L1612.5 2911.8 L1614.5 2907.5 L1616.5 2903.1 L1618.5 2898.5 L1620.5 2893.7 L1622.5 2888.8 L1624.5 2883.8 L1626.5 2878.6 L1628.5 2873.3 L1630.5 2867.8 L1632.5 2862.2 L1634.5 2856.5 L1636.5 2850.6 L1638.5 2844.6 L1640.5 2838.5 L1642.5 2832.3 L1644.5 2825.9 L1646.5 2819.4 L1648.5 2812.9 L1650.5 2806.2 L1652.5 2799.4 L1654.5 2792.5 L1656.5 2785.6 L1658.5 2778.6 L1660.5 2771.5 L1662.5 2764.3 L1664.5 2757.1 L1666.5 2749.9 L1668.5 2742.6 L1670.5 2735.3 L1672.5 2728 L1674.5 2720.8 L1676.5 2713.5 L1678.5 2706.2 L1680.5 2699 L1682.5 2691.8 L1684.5 2684.6 L1686.5 2677.5 L1688.5 2670.5 L1690.5 2663.5 L1692.5 2656.6 L1694.5 2649.8 L1696.5 2643.1 L1698.5 2636.5 L1700.5 2630 L1702.5 2623.7 L1704.5 2617.5 L1706.5 2611.4 L1708.5 2605.5 L1710.5 2599.8 L1712.5 2594.2 L1714.5 2588.8 L1716.5 2583.6 L1718.5 2578.7 L1720.5 2573.9 L1722.5 2569.4 L1724.5 2565.1 L1726.5 2561.1 L1728.5 2557.3 L1730.5 2553.8 L1732.5 2550.5 L1734.5 2547.6 L1736.5 2545 L1738.5 2542.6 L1740.5 2540.6 L1742.5 2538.9 L1744.5 2537.5 L1746.5 2536.4 L1748.5 2535.6 L1750.5 2535.2 L1752.5 2535.1 L1754.5 2535.4 L1756.5 2536 L1758.5 2536.9 L1760.5 2538.2 L1762.5 2539.8 L1764.5 2541.7 L1766.5 2544 L1768.5 2546.6 L1770.5 2549.5 L1772.5 2552.7 L1774.5 2556.2 L1776.5 2560.1 L1778.5 2564.2 L1780.5 2568.6 L1782.5 2573.3 L1784.5 2578.3 L1786.5 2583.5 L1788.5 2589 L1790.5 2594.7 L1792.5 2600.7 L1794.5 2606.8 L1796.5 2613.2 L1798.5 2619.8 L1800.5 2626.6 L1802.5 2633.6 L1804.5 2640.8 L1806.5 2648.2 L1808.5 2655.7 L1810.5 2663.3 L1812.5 2671.1 L1814.5 2679.1 L1816.5 2687.1 L1818.5 2695.2 L1820.5 2703.4 L1822.5 2711.7 L1824.5 2720.1 L1826.5 2728.5 L1828.5 2736.9 L1830.5 2745.4 L1832.5 2753.9 L1834.5 2762.4 L1836.5 2770.8 L1838.5 2779.3 L1840.5 2787.7 L1842.5 2796.1 L1844.5 2804.5 L1846.5 2812.8 L1848.5 2821 L1850.5 2829.2 L1852.5 2837.2 L1854.5 2845.2 L1856.5 2853.1 L1858.5 2860.9 L1860.5 2868.6 L1862.5 2876.2 L1864.5 2883.7 L1866.5 2891.1 L1868.5 2898.3 L1870.5 2905.4 L1872.5 2912.4 L1874.5 2919.3 L1876.5 2926 L1878.5 2932.5 L1880.5 2938.9 L1882.5 2945.2 L1884.5 2951.3 L1886.5 2957.3 L1888.5 2963.1 L1890.5 2968.8 L1892.5 2974.3 L1894.5 2979.6 L1896.5 2984.8 L1898.5 2989.8 L1900.5 2994.7 L1902.5 2999.5 L1904.5 3004 L1906.5 3008.4 L1908.5 3012.7 L1910.5 3016.8 L1912.5 3020.8 L1914.5 3024.7 L1916.5 3028.4 L1918.5 3032 L1920.5 3035.4 L1922.5 3038.7 L1924.5 3041.9 L1926.5 3044.9 L1928.5 3047.9 L1930.5 3050.7 L1932.5 3053.4 L1934.5 3055.9 L1936.5 3058.4 L1938.5 3060.8 L1940.5 3063 L1942.5 3065.2 L1944.5 3067.2 L1946.5 3069.2 L1948.5 3071.1 L1950.5 3072.8 L1952.5 3074.5 L1954.5 3076.1 L1956.5 3077.7 L1958.5 3079.1 L1960.5 3080.5 L1962.5 3081.8 L1964.5 3083 L1966.5 3084.2 L1968.5 3085.3 L1970.5 3086.4 L1972.5 3087.4 L1974.5 3088.3 L1976.5 3089.2 L1978.5 3090 L1980.5 3090.8 L1982.5 3091.6 L1984.5 3092.3 L1986.5 3092.9 L1988.5 3093.5 L1990.5 3094.1 L1992.5 3094.7 L1994.5 3095.2 L1996.5 3095.7 L1998.5 3096.1 L2000.5 3096.6 L2002.5 3097 L2004.5 3097.4 L2006.5 3097.7 L2008.5 3098.1 L2010.5 3098.4 L2012.5 3098.7 L2014.5 3099 L2016.5 3099.2 L2018.5 3099.5 L2020.5 3099.7 L2022.5 3099.9 L2024.5 3100.1 L2026.5 3100.3 L2028.5 3100.5 L2030.5 3100.7 L2032.5 3100.8 L2034.5 3101 L2036.5 3101.1 L2038.5 3101.3 L2040.5 3101.4 L2042.5 3101.5 L2044.5 3101.6 L2046.5 3101.7 L2048.5 3101.8 L2050.5 3101.9 L2052.5 3102 L2054.5 3102.1 L2056.5 3102.2 L2058.5 3102.2 L2060.5 3102.3 L2062.5 3102.4 L2064.5 3102.4 L2066.5 3102.5 L2068.5 3102.5 L2070.5 3102.6 L2072.5 3102.6 L2074.5 3102.7 L2076.5 3102.7 L2078.5 3102.7 L2080.5 3102.8 L2082.5 3102.8 L2084.5 3102.8 L2086.5 3102.8 L2088.5 3102.9 L2090.5 3102.9 L2092.5 3102.9 L2094.5 3102.9 L2096.5 3102.9 L2098.5 3102.9 L2100.5 3103 L2102.5 3103" stroke="#006EE6" stroke-width="3.3" fill="none" stroke-linejoin="round" stroke-linecap="round"/>
<path d="M1366.5 2991.4 L1368.5 2991.4 L1370.5 2991.5 L1372.5 2991.6 L1374.5 2991.6 L1376.5 2991.7 L1378.5 2991.8 L1380.5 2991.8 L1382.5 2991.9 L1384.5 2992 L1386.5 2992.1 L1388.5 2992.1 L1390.5 2992.2 L1392.5 2992.3 L1394.5 2992.3 L1396.5 2992.4 L1398.5 2992.5 L1400.5 2992.6 L1402.5 2992.7 L1404.5 2992.7 L1406.5 2992.8 L1408.5 2992.9 L1410.5 2993 L1412.5 2993 L1414.5 2993.1 L1416.5 2993.2 L1418.5 2993.3 L1420.5 2993.4 L1422.5 2993.5 L1424.5 2993.5 L1426.5 2993.6 L1428.5 2993.7 L1430.5 2993.8 L1432.5 2993.9 L1434.5 2994 L1436.5 2994.1 L1438.5 2994.2 L1440.5 2994.2 L1442.5 2994.3 L1444.5 2994.4 L1446.5 2994.5 L1448.5 2994.6 L1450.5 2994.7 L1452.5 2994.8 L1454.5 2994.9 L1456.5 2995 L1458.5 2995 L1460.5 2995.1 L1462.5 2995.2 L1464.5 2995.3 L1466.5 2995.4 L1468.5 2995.5 L1470.5 2995.6 L1472.5 2995.7 L1474.5 2995.8 L1476.5 2995.9 L1478.5 2996 L1480.5 2996.1 L1482.5 2996.2 L1484.5 2996.3 L1486.5 2996.4 L1488.5 2996.5 L1490.5 2996.7 L1492.5 2996.8 L1494.5 2996.9 L1496.5 2997 L1498.5 2997.2 L1500.5 2997.3 L1502.5 2997.5 L1504.5 2997.6 L1506.5 2997.8 L1508.5 2997.9 L1510.5 2998.1 L1512.5 2998.3 L1514.5 2998.5 L1516.5 2998.7 L1518.5 2998.9 L1520.5 2999.1 L1522.5 2999.3 L1524.5 2999.6 L1526.5 2999.8 L1528.5 3000 L1530.5 3000.3 L1532.5 3000.5 L1534.5 3000.8 L1536.5 3001.1 L1538.5 3001.3 L1540.5 3001.6 L1542.5 3001.9 L1544.5 3002.2 L1546.5 3002.5 L1548.5 3002.8 L1550.5 3003.1 L1552.5 3003.4 L1554.5 3003.7 L1556.5 3004 L1558.5 3004.4 L1560.5 3004.8 L1562.5 3005.2 L1564.5 3005.6 L1566.5 3006 L1568.5 3006.4 L1570.5 3006.9 L1572.5 3007.4 L1574.5 3007.8 L1576.5 3008.3 L1578.5 3008.8 L1580.5 3009.4 L1582.5 3009.9 L1584.5 3010.4 L1586.5 3011 L1588.5 3011.5 L1590.5 3012.1 L1592.5 3012.6 L1594.5 3013.2 L1596.5 3013.8 L1598.5 3014.3 L1600.5 3014.9 L1602.5 3015.5 L1604.5 3016 L1606.5 3016.6 L1608.5 3017.1 L1610.5 3017.7 L1612.5 3018.2 L1614.5 3018.8 L1616.5 3019.3 L1618.5 3019.9 L1620.5 3020.4 L1622.5 3021 L1624.5 3021.6 L1626.5 3022.1 L1628.5 3022.7 L1630.5 3023.3 L1632.5 3023.9 L1634.5 3024.5 L1636.5 3025 L1638.5 3025.6 L1640.5 3026.2 L1642.5 3026.9 L1644.5 3027.5 L1646.5 3028.1 L1648.5 3028.7 L1650.5 3029.3 L1652.5 3030 L1654.5 3030.6 L1656.5 3031.3 L1658.5 3031.9 L1660.5 3032.6 L1662.5 3033.3 L1664.5 3034 L1666.5 3034.7 L1668.5 3035.4 L1670.5 3036.2 L1672.5 3036.9 L1674.5 3037.7 L1676.5 3038.5 L1678.5 3039.3 L1680.5 3040.2 L1682.5 3041 L1684.5 3041.8 L1686.5 3042.7 L1688.5 3043.5 L1690.5 3044.4 L1692.5 3045.2 L1694.5 3046.1 L1696.5 3046.9 L1698.5 3047.8 L1700.5 3048.6 L1702.5 3049.4 L1704.5 3050.2 L1706.5 3051 L1708.5 3051.8 L1710.5 3052.6 L1712.5 3053.3 L1714.5 3054.1 L1716.5 3054.8 L1718.5 3055.5 L1720.5 3056.2 L1722.5 3056.8 L1724.5 3057.5 L1726.5 3058.1 L1728.5 3058.7 L1730.5 3059.3 L1732.5 3060 L1734.5 3060.6 L1736.5 3061.2 L1738.5 3061.8 L1740.5 3062.4 L1742.5 3063 L1744.5 3063.5 L1746.5 3064.1 L1748.5 3064.7 L1750.5 3065.3 L1752.5 3065.9 L1754.5 3066.5 L1756.5 3067.1 L1758.5 3067.8 L1760.5 3068.4 L1762.5 3069 L1764.5 3069.6 L1766.5 3070.2 L1768.5 3070.8 L1770.5 3071.5 L1772.5 3072.1 L1774.5 3072.7 L1776.5 3073.3 L1778.5 3073.9 L1780.5 3074.5 L1782.5 3075.1 L1784.5 3075.7 L1786.5 3076.2 L1788.5 3076.8 L1790.5 3077.4 L1792.5 3077.9 L1794.5 3078.4 L1796.5 3079 L1798.5 3079.5 L1800.5 3080 L1802.5 3080.5 L1804.5 3081 L1806.5 3081.5 L1808.5 3082 L1810.5 3082.5 L1812.5 3083 L1814.5 3083.5 L1816.5 3084 L1818.5 3084.4 L1820.5 3084.9 L1822.5 3085.4 L1824.5 3085.9 L1826.5 3086.3 L1828.5 3086.8 L1830.5 3087.2 L1832.5 3087.6 L1834.5 3088 L1836.5 3088.5 L1838.5 3088.9 L1840.5 3089.2 L1842.5 3089.6 L1844.5 3090 L1846.5 3090.3 L1848.5 3090.6 L1850.5 3091 L1852.5 3091.3 L1854.5 3091.6 L1856.5 3091.8 L1858.5 3092.1 L1860.5 3092.4 L1862.5 3092.7 L1864.5 3092.9 L1866.5 3093.2 L1868.5 3093.5 L1870.5 3093.7 L1872.5 3094 L1874.5 3094.2 L1876.5 3094.4 L1878.5 3094.7 L1880.5 3094.9 L1882.5 3095.1 L1884.5 3095.3 L1886.5 3095.5 L1888.5 3095.7 L1890.5 3095.9 L1892.5 3096.1 L1894.5 3096.3 L1896.5 3096.5 L1898.5 3096.6 L1900.5 3096.8 L1902.5 3097 L1904.5 3097.1 L1906.5 3097.2 L1908.5 3097.4 L1910.5 3097.5 L1912.5 3097.6 L1914.5 3097.8 L1916.5 3097.9 L1918.5 3098 L1920.5 3098.1 L1922.5 3098.3 L1924.5 3098.4 L1926.5 3098.5 L1928.5 3098.6 L1930.5 3098.7 L1932.5 3098.8 L1934.5 3098.9 L1936.5 3099 L1938.5 3099.1 L1940.5 3099.2 L1942.5 3099.3 L1944.5 3099.4 L1946.5 3099.5 L1948.5 3099.6 L1950.5 3099.7 L1952.5 3099.8 L1954.5 3099.9 L1956.5 3100 L1958.5 3100.1 L1960.5 3100.1 L1962.5 3100.2 L1964.5 3100.3 L1966.5 3100.4 L1968.5 3100.4 L1970.5 3100.5 L1972.5 3100.6 L1974.5 3100.6 L1976.5 3100.7 L1978.5 3100.8 L1980.5 3100.8 L1982.5 3100.9 L1984.5 3100.9 L1986.5 3101 L1988.5 3101 L1990.5 3101.1 L1992.5 3101.1 L1994.5 3101.2 L1996.5 3101.2 L1998.5 3101.3 L2000.5 3101.4 L2002.5 3101.4 L2004.5 3101.5 L2006.5 3101.5 L2008.5 3101.6 L2010.5 3101.6 L2012.5 3101.7 L2014.5 3101.7 L2016.5 3101.7 L2018.5 3101.8 L2020.5 3101.8 L2022.5 3101.9 L2024.5 3101.9 L2026.5 3102 L2028.5 3102 L2030.5 3102.1 L2032.5 3102.1 L2034.5 3102.2 L2036.5 3102.2 L2038.5 3102.2 L2040.5 3102.3 L2042.5 3102.3 L2044.5 3102.4 L2046.5 3102.4 L2048.5 3102.4 L2050.5 3102.5 L2052.5 3102.5 L2054.5 3102.6 L2056.5 3102.6 L2058.5 3102.6 L2060.5 3102.6 L2062.5 3102.7 L2064.5 3102.7 L2066.5 3102.7 L2068.5 3102.8 L2070.5 3102.8 L2072.5 3102.8 L2074.5 3102.8 L2076.5 3102.9 L2078.5 3102.9 L2080.5 3102.9 L2082.5 3102.9 L2084.5 3102.9 L2086.5 3102.9 L2088.5 3103 L2090.5 3103 L2092.5 3103 L2094.5 3103 L2096.5 3103 L2098.5 3103 L2100.5 3103 L2102.5 3103" stroke="#FF0000" stroke-width="3.3" fill="none" stroke-linejoin="round" stroke-linecap="round"/>
<path d="M1366.5 2877.5 L1368.5 2880.1 L1370.5 2882.7 L1372.5 2885.1 L1374.5 2887.5 L1376.5 2889.8 L1378.5 2892.1 L1380.5 2894.2 L1382.5 2896.3 L1384.5 2898.3 L1386.5 2900.2 L1388.5 2902 L1390.5 2903.8 L1392.5 2905.5 L1394.5 2907.1 L1396.5 2908.6 L1398.5 2910 L1400.5 2911.3 L1402.5 2912.6 L1404.5 2913.8 L1406.5 2914.9 L1408.5 2915.9 L1410.5 2916.8 L1412.5 2917.6 L1414.5 2918.3 L1416.5 2919 L1418.5 2919.6 L1420.5 2920.1 L1422.5 2920.5 L1424.5 2920.8 L1426.5 2921 L1428.5 2921.1 L1430.5 2921.1 L1432.5 2921.1 L1434.5 2920.9 L1436.5 2920.7 L1438.5 2920.4 L1440.5 2920 L1442.5 2919.5 L1444.5 2918.9 L1446.5 2918.2 L1448.5 2917.4 L1450.5 2916.5 L1452.5 2915.5 L1454.5 2914.4 L1456.5 2913.2 L1458.5 2911.9 L1460.5 2910.6 L1462.5 2909.1 L1464.5 2907.5 L1466.5 2905.8 L1468.5 2904.1 L1470.5 2902.2 L1472.5 2900.2 L1474.5 2898.1 L1476.5 2895.9 L1478.5 2893.6 L1480.5 2891.3 L1482.5 2888.8 L1484.5 2886.2 L1486.5 2883.4 L1488.5 2880.6 L1490.5 2877.7 L1492.5 2874.7 L1494.5 2871.6 L1496.5 2868.3 L1498.5 2865 L1500.5 2861.5 L1502.5 2858 L1504.5 2854.3 L1506.5 2850.5 L1508.5 2846.6 L1510.5 2842.7 L1512.5 2838.6 L1514.5 2834.4 L1516.5 2830.1 L1518.5 2825.7 L1520.5 2821.1 L1522.5 2816.5 L1524.5 2811.8 L1526.5 2807 L1528.5 2802 L1530.5 2797 L1532.5 2791.9 L1534.5 2786.6 L1536.5 2781.3 L1538.5 2775.8 L1540.5 2770.3 L1542.5 2764.7 L1544.5 2758.9 L1546.5 2753.1 L1548.5 2747.2 L1550.5 2741.2 L1552.5 2735 L1554.5 2728.8 L1556.5 2722.6 L1558.5 2716.2 L1560.5 2709.8 L1562.5 2703.3 L1564.5 2696.7 L1566.5 2690.1 L1568.5 2683.4 L1570.5 2676.7 L1572.5 2669.9 L1574.5 2663 L1576.5 2656.1 L1578.5 2649.1 L1580.5 2642.1 L1582.5 2635 L1584.5 2627.9 L1586.5 2620.7 L1588.5 2613.5 L1590.5 2606.2 L1592.5 2598.9 L1594.5 2591.6 L1596.5 2584.2 L1598.5 2576.8 L1600.5 2569.4 L1602.5 2561.9 L1604.5 2554.4 L1606.5 2546.9 L1608.5 2539.3 L1610.5 2531.8 L1612.5 2524.2 L1614.5 2516.6 L1616.5 2509.1 L1618.5 2501.5 L1620.5 2493.9 L1622.5 2486.4 L1624.5 2478.9 L1626.5 2471.4 L1628.5 2463.9 L1630.5 2456.5 L1632.5 2449.1 L1634.5 2441.8 L1636.5 2434.5 L1638.5 2427.2 L1640.5 2420 L1642.5 2412.9 L1644.5 2405.8 L1646.5 2398.8 L1648.5 2391.9 L1650.5 2385.1 L1652.5 2378.4 L1654.5 2371.8 L1656.5 2365.2 L1658.5 2358.8 L1660.5 2352.5 L1662.5 2346.4 L1664.5 2340.3 L1666.5 2334.4 L1668.5 2328.7 L1670.5 2323.1 L1672.5 2317.7 L1674.5 2312.4 L1676.5 2307.3 L1678.5 2302.4 L1680.5 2297.7 L1682.5 2293.2 L1684.5 2288.9 L1686.5 2284.7 L1688.5 2280.8 L1690.5 2277.1 L1692.5 2273.6 L1694.5 2270.3 L1696.5 2267.3 L1698.5 2264.5 L1700.5 2261.9 L1702.5 2259.5 L1704.5 2257.4 L1706.5 2255.6 L1708.5 2254 L1710.5 2252.7 L1712.5 2251.6 L1714.5 2250.8 L1716.5 2250.3 L1718.5 2250.1 L1720.5 2250.1 L1722.5 2250.5 L1724.5 2251.1 L1726.5 2252.1 L1728.5 2253.3 L1730.5 2254.9 L1732.5 2256.8 L1734.5 2259 L1736.5 2261.6 L1738.5 2264.4 L1740.5 2267.6 L1742.5 2271.2 L1744.5 2275 L1746.5 2279.2 L1748.5 2283.8 L1750.5 2288.7 L1752.5 2293.9 L1754.5 2299.4 L1756.5 2305.2 L1758.5 2311.4 L1760.5 2317.9 L1762.5 2324.7 L1764.5 2331.8 L1766.5 2339.2 L1768.5 2346.9 L1770.5 2354.9 L1772.5 2363.1 L1774.5 2371.6 L1776.5 2380.4 L1778.5 2389.4 L1780.5 2398.6 L1782.5 2408.1 L1784.5 2417.7 L1786.5 2427.6 L1788.5 2437.7 L1790.5 2447.9 L1792.5 2458.3 L1794.5 2468.8 L1796.5 2479.5 L1798.5 2490.3 L1800.5 2501.3 L1802.5 2512.3 L1804.5 2523.5 L1806.5 2534.7 L1808.5 2546 L1810.5 2557.4 L1812.5 2568.8 L1814.5 2580.2 L1816.5 2591.7 L1818.5 2603.2 L1820.5 2614.7 L1822.5 2626.1 L1824.5 2637.5 L1826.5 2648.9 L1828.5 2660.3 L1830.5 2671.5 L1832.5 2682.7 L1834.5 2693.9 L1836.5 2704.9 L1838.5 2715.8 L1840.5 2726.6 L1842.5 2737.3 L1844.5 2747.8 L1846.5 2758.2 L1848.5 2768.5 L1850.5 2778.6 L1852.5 2788.5 L1854.5 2798.3 L1856.5 2807.9 L1858.5 2817.4 L1860.5 2826.7 L1862.5 2835.8 L1864.5 2844.7 L1866.5 2853.4 L1868.5 2862 L1870.5 2870.3 L1872.5 2878.5 L1874.5 2886.5 L1876.5 2894.2 L1878.5 2901.8 L1880.5 2909.2 L1882.5 2916.4 L1884.5 2923.4 L1886.5 2930.2 L1888.5 2936.9 L1890.5 2943.3 L1892.5 2949.5 L1894.5 2955.5 L1896.5 2961.4 L1898.5 2967.1 L1900.5 2972.5 L1902.5 2977.8 L1904.5 2983 L1906.5 2987.9 L1908.5 2992.7 L1910.5 2997.3 L1912.5 3001.7 L1914.5 3006 L1916.5 3010.1 L1918.5 3014.1 L1920.5 3018 L1922.5 3021.7 L1924.5 3025.2 L1926.5 3028.6 L1928.5 3031.9 L1930.5 3035.1 L1932.5 3038.1 L1934.5 3041 L1936.5 3043.8 L1938.5 3046.5 L1940.5 3049 L1942.5 3051.5 L1944.5 3053.8 L1946.5 3056.1 L1948.5 3058.2 L1950.5 3060.3 L1952.5 3062.3 L1954.5 3064.2 L1956.5 3066 L1958.5 3067.7 L1960.5 3069.3 L1962.5 3070.9 L1964.5 3072.4 L1966.5 3073.8 L1968.5 3075.2 L1970.5 3076.5 L1972.5 3077.7 L1974.5 3078.9 L1976.5 3080 L1978.5 3081.1 L1980.5 3082.1 L1982.5 3083.1 L1984.5 3084 L1986.5 3084.9 L1988.5 3085.7 L1990.5 3086.5 L1992.5 3087.3 L1994.5 3088 L1996.5 3088.7 L1998.5 3089.3 L2000.5 3090 L2002.5 3090.5 L2004.5 3091.1 L2006.5 3091.6 L2008.5 3092.2 L2010.5 3092.6 L2012.5 3093.1 L2014.5 3093.6 L2016.5 3094 L2018.5 3094.4 L2020.5 3094.8 L2022.5 3095.1 L2024.5 3095.5 L2026.5 3095.8 L2028.5 3096.1 L2030.5 3096.4 L2032.5 3096.7 L2034.5 3096.9 L2036.5 3097.2 L2038.5 3097.4 L2040.5 3097.7 L2042.5 3097.9 L2044.5 3098.1 L2046.5 3098.3 L2048.5 3098.5 L2050.5 3098.7 L2052.5 3098.8 L2054.5 3099 L2056.5 3099.2 L2058.5 3099.3 L2060.5 3099.4 L2062.5 3099.6 L2064.5 3099.7 L2066.5 3099.8 L2068.5 3099.9 L2070.5 3100 L2072.5 3100.1 L2074.5 3100.2 L2076.5 3100.3 L2078.5 3100.4 L2080.5 3100.5 L2082.5 3100.6 L2084.5 3100.6 L2086.5 3100.7 L2088.5 3100.7 L2090.5 3100.8 L2092.5 3100.9 L2094.5 3100.9 L2096.5 3100.9 L2098.5 3101 L2100.5 3101 L2102.5 3101.1" stroke="#808000" stroke-width="3.3" fill="none" stroke-linejoin="round" stroke-linecap="round"/>
<text id="pa" transform="translate(37.83 108.15) scale(0.9942 1.0110)" font-family="Liberation Sans, Arial, sans-serif" font-size="107" font-weight="bold" fill="#000">(a)</text>
<text id="pb" transform="translate(79.72 2057.27) scale(0.9740 1.0060)" font-family="Liberation Sans, Arial, sans-serif" font-size="107" font-weight="bold" fill="#000">(b)</text>
<text id="pc" transform="translate(1151.79 2052.51) scale(0.9190 1.0040)" font-family="Liberation Sans, Arial, sans-serif" font-size="107" font-weight="bold" fill="#000">(c)</text>
<text id="ta540" transform="translate(261.97 1646.80) scale(1.0095 1.0000)" font-family="Liberation Sans, Arial, sans-serif" font-size="66" font-weight="normal" fill="#000">540</text>
<text id="ta535" transform="translate(439.67 1646.80) scale(1.0095 1.0000)" font-family="Liberation Sans, Arial, sans-serif" font-size="66" font-weight="normal" fill="#000">535</text>
<text id="ta530" transform="translate(616.34 1646.80) scale(1.0192 1.0000)" font-family="Liberation Sans, Arial, sans-serif" font-size="66" font-weight="normal" fill="#000">530</text>
<text id="ta525" transform="translate(794.07 1646.80) scale(1.0095 1.0000)" font-family="Liberation Sans, Arial, sans-serif" font-size="66" font-weight="normal" fill="#000">525</text>
<text id="ta520" transform="translate(971.78 1646.80) scale(1.0095 1.0000)" font-family="Liberation Sans, Arial, sans-serif" font-size="66" font-weight="normal" fill="#000">520</text>
<text id="ta515" transform="translate(1148.44 1646.80) scale(1.0192 1.0000)" font-family="Liberation Sans, Arial, sans-serif" font-size="66" font-weight="normal" fill="#000">515</text>
<text id="ta465" transform="translate(1548.01 1646.80) scale(0.9907 1.0000)" font-family="Liberation Sans, Arial, sans-serif" font-size="66" font-weight="normal" fill="#000">465</text>
<text id="ta460" transform="translate(1782.40 1646.80) scale(1.0000 1.0000)" font-family="Liberation Sans, Arial, sans-serif" font-size="66" font-weight="normal" fill="#000">460</text>
<text id="ta455" transform="translate(2016.80 1646.80) scale(1.0000 1.0000)" font-family="Liberation Sans, Arial, sans-serif" font-size="66" font-weight="normal" fill="#000">455</text>
<text id="xa" transform="translate(869.71 1782.80) scale(0.9829 1.0000)" font-family="Liberation Sans, Arial, sans-serif" font-size="80.5" font-weight="normal" fill="#000">Binding energy [eV]</text>
<text id="ya" transform="translate(243.80 1116.73) rotate(-90) scale(0.9898 1)" font-family="Liberation Sans, Arial, sans-serif" font-size="80.5" font-weight="normal" fill="#000">Intensity [a.u.]</text>
<text id="o1s" transform="translate(597.38 184.00) scale(1.0051 1.0000)" font-family="Liberation Sans, Arial, sans-serif" font-size="67" font-weight="normal" fill="#9400FF">O 1s</text>
<text id="v12v" transform="translate(808.19 980.90) scale(1.0271 1.0000)" font-family="Liberation Sans, Arial, sans-serif" font-size="67" font-weight="normal" fill="#93008A">V2p<tspan font-size="34" dy="26">1/2</tspan><tspan dy="-26">(V)</tspan></text>
<text id="v12iv" transform="translate(987.95 1075.20) scale(1.0487 1.0000)" font-family="Liberation Sans, Arial, sans-serif" font-size="66" font-weight="normal" fill="#FF8000">V2p<tspan font-size="34" dy="26">1/2</tspan><tspan dy="-26">(IV)</tspan></text>
<text id="v32v" transform="translate(1139.98 1170.40) scale(1.0423 1.0000)" font-family="Liberation Sans, Arial, sans-serif" font-size="66" font-weight="normal" fill="#00FF00">V2p<tspan font-size="34" dy="26">3/2</tspan><tspan dy="-26">(V)</tspan></text>
<text id="v32iv" transform="translate(1191.96 1316.40) scale(1.0444 1.0000)" font-family="Liberation Sans, Arial, sans-serif" font-size="66" font-weight="normal" fill="#FF00FF">V2p<tspan font-size="34" dy="26">3/2</tspan><tspan dy="-26">(IV)</tspan></text>
<text id="ti12" transform="translate(1553.94 1297.20) scale(1.0595 1.0000)" font-family="Liberation Sans, Arial, sans-serif" font-size="67" font-weight="normal" fill="#0000FF">Ti2p<tspan font-size="34" dy="25">1/2</tspan></text>
<text id="ti32" transform="translate(1842.88 1145.30) scale(1.0771 1.0000)" font-family="Liberation Sans, Arial, sans-serif" font-size="66" font-weight="normal" fill="#00BFB0">Ti2p<tspan font-size="34" dy="26">3/2</tspan></text>
<text id="tb520" transform="translate(385.76 3444.50) scale(1.0113 1.0000)" font-family="Liberation Sans, Arial, sans-serif" font-size="66.6" font-weight="normal" fill="#000">520</text>
<text id="tb515" transform="translate(764.33 3444.50) scale(1.0210 1.0000)" font-family="Liberation Sans, Arial, sans-serif" font-size="66.6" font-weight="normal" fill="#000">515</text>
<text id="xb" transform="translate(329.92 3565.80) scale(0.9814 1.0000)" font-family="Liberation Sans, Arial, sans-serif" font-size="80.5" font-weight="normal" fill="#000">Binding energy [eV]</text>
<text id="yb" transform="translate(228.20 2940.40) rotate(-90) scale(0.9932 1)" font-family="Liberation Sans, Arial, sans-serif" font-size="80.5" font-weight="normal" fill="#000">Intensity [a.u.]</text>
<text id="vb" transform="translate(313.25 2114.00) scale(0.9394 1.0000)" font-family="Liberation Sans, Arial, sans-serif" font-size="68.4" font-weight="bold" fill="#000">V 2p<tspan font-size="40.4" dy="25.7">3/2</tspan></text>
<text id="tc462" transform="translate(1400.21 3446.00) scale(0.9835 1.0000)" font-family="Liberation Sans, Arial, sans-serif" font-size="67.5" font-weight="normal" fill="#000">462</text>
<text id="tc460" transform="translate(1585.50 3446.00) scale(0.9835 1.0000)" font-family="Liberation Sans, Arial, sans-serif" font-size="67.5" font-weight="normal" fill="#000">460</text>
<text id="tc458" transform="translate(1770.77 3446.00) scale(0.9926 1.0000)" font-family="Liberation Sans, Arial, sans-serif" font-size="67.5" font-weight="normal" fill="#000">458</text>
<text id="tc456" transform="translate(1957.06 3446.00) scale(0.9835 1.0000)" font-family="Liberation Sans, Arial, sans-serif" font-size="67.5" font-weight="normal" fill="#000">456</text>
<text id="xc" transform="translate(1396.20 3564.50) scale(0.9674 1.0000)" font-family="Liberation Sans, Arial, sans-serif" font-size="80.5" font-weight="normal" fill="#000">Binding energy [eV]</text>
<text id="yc" transform="translate(1288.90 2996.91) rotate(-90) scale(1.0080 1)" font-family="Liberation Sans, Arial, sans-serif" font-size="80.5" font-weight="normal" fill="#000">Intensity [a.u.]</text>
<text id="tic" transform="translate(1386.23 2120.00) scale(0.9231 1.0000)" font-family="Liberation Sans, Arial, sans-serif" font-size="67" font-weight="bold" fill="#000">Ti 2p<tspan font-size="42" dy="27.2">3/2</tspan></text>
<text id="ev" transform="translate(1736.21 2152.40) scale(0.9914 1.0000)" font-family="Liberation Sans, Arial, sans-serif" font-size="67.6" font-weight="normal" fill="#000">458.7 eV</text>
</svg>
</body></html>
